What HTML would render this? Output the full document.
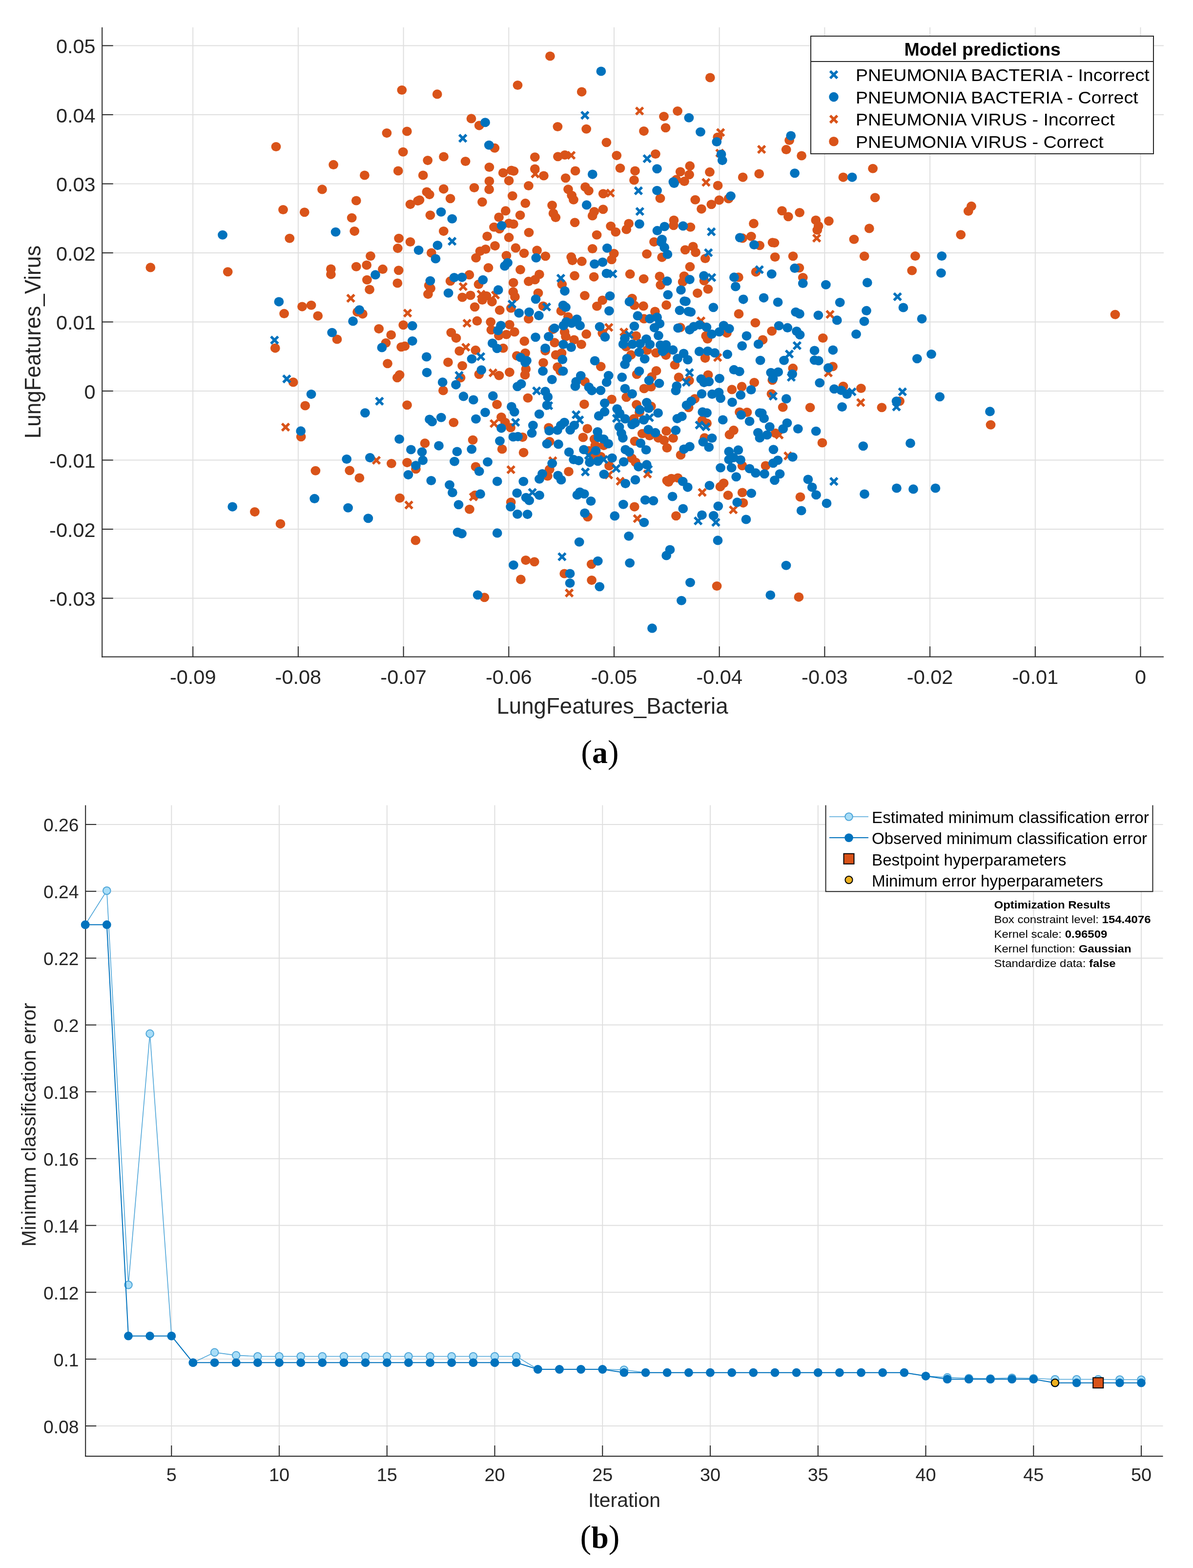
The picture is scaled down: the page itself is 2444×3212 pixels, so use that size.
<!DOCTYPE html>
<html><head><meta charset="utf-8"><title>Figure</title>
<style>html,body{margin:0;padding:0;background:#fff;} body{width:2444px;height:3212px;} svg{display:block;} text{font-family:'Liberation Sans', Arial, Helvetica, sans-serif;}</style>
</head><body>
<svg width="2444" height="3212" viewBox="0 0 2444 3212">
<rect width="2444" height="3212" fill="#fff"/>
<line x1="395.2" y1="56" x2="395.2" y2="1345.6" stroke="#dfdfdf" stroke-width="2"/>
<line x1="610.9" y1="56" x2="610.9" y2="1345.6" stroke="#dfdfdf" stroke-width="2"/>
<line x1="826.6" y1="56" x2="826.6" y2="1345.6" stroke="#dfdfdf" stroke-width="2"/>
<line x1="1042.3" y1="56" x2="1042.3" y2="1345.6" stroke="#dfdfdf" stroke-width="2"/>
<line x1="1258.0" y1="56" x2="1258.0" y2="1345.6" stroke="#dfdfdf" stroke-width="2"/>
<line x1="1473.7" y1="56" x2="1473.7" y2="1345.6" stroke="#dfdfdf" stroke-width="2"/>
<line x1="1689.4" y1="56" x2="1689.4" y2="1345.6" stroke="#dfdfdf" stroke-width="2"/>
<line x1="1905.1" y1="56" x2="1905.1" y2="1345.6" stroke="#dfdfdf" stroke-width="2"/>
<line x1="2120.8" y1="56" x2="2120.8" y2="1345.6" stroke="#dfdfdf" stroke-width="2"/>
<line x1="2336.5" y1="56" x2="2336.5" y2="1345.6" stroke="#dfdfdf" stroke-width="2"/>
<line x1="209.2" y1="93.5" x2="2384" y2="93.5" stroke="#dfdfdf" stroke-width="2"/>
<line x1="209.2" y1="235.0" x2="2384" y2="235.0" stroke="#dfdfdf" stroke-width="2"/>
<line x1="209.2" y1="376.5" x2="2384" y2="376.5" stroke="#dfdfdf" stroke-width="2"/>
<line x1="209.2" y1="518.0" x2="2384" y2="518.0" stroke="#dfdfdf" stroke-width="2"/>
<line x1="209.2" y1="659.5" x2="2384" y2="659.5" stroke="#dfdfdf" stroke-width="2"/>
<line x1="209.2" y1="801.0" x2="2384" y2="801.0" stroke="#dfdfdf" stroke-width="2"/>
<line x1="209.2" y1="942.5" x2="2384" y2="942.5" stroke="#dfdfdf" stroke-width="2"/>
<line x1="209.2" y1="1084.0" x2="2384" y2="1084.0" stroke="#dfdfdf" stroke-width="2"/>
<line x1="209.2" y1="1225.5" x2="2384" y2="1225.5" stroke="#dfdfdf" stroke-width="2"/>
<ellipse cx="565.5" cy="300.5" rx="9.9" ry="9.55" fill="#D95319"/>
<ellipse cx="823.3" cy="184.5" rx="9.9" ry="9.55" fill="#D95319"/>
<ellipse cx="895.7" cy="192.9" rx="9.9" ry="9.55" fill="#D95319"/>
<ellipse cx="965.5" cy="242.9" rx="9.9" ry="9.55" fill="#D95319"/>
<ellipse cx="981.7" cy="257.1" rx="9.9" ry="9.55" fill="#D95319"/>
<ellipse cx="792.4" cy="272.6" rx="9.9" ry="9.55" fill="#D95319"/>
<ellipse cx="833.8" cy="269.0" rx="9.9" ry="9.55" fill="#D95319"/>
<ellipse cx="825.7" cy="311.2" rx="9.9" ry="9.55" fill="#D95319"/>
<ellipse cx="909.0" cy="321.0" rx="9.9" ry="9.55" fill="#D95319"/>
<ellipse cx="876.2" cy="328.6" rx="9.9" ry="9.55" fill="#D95319"/>
<ellipse cx="953.6" cy="330.5" rx="9.9" ry="9.55" fill="#D95319"/>
<ellipse cx="683.1" cy="337.4" rx="9.9" ry="9.55" fill="#D95319"/>
<ellipse cx="815.7" cy="350.0" rx="9.9" ry="9.55" fill="#D95319"/>
<ellipse cx="746.9" cy="359.0" rx="9.9" ry="9.55" fill="#D95319"/>
<ellipse cx="866.7" cy="359.0" rx="9.9" ry="9.55" fill="#D95319"/>
<ellipse cx="1126.9" cy="115.0" rx="9.9" ry="9.55" fill="#D95319"/>
<ellipse cx="1060.5" cy="174.5" rx="9.9" ry="9.55" fill="#D95319"/>
<ellipse cx="1191.7" cy="188.1" rx="9.9" ry="9.55" fill="#D95319"/>
<ellipse cx="1388.1" cy="227.6" rx="9.9" ry="9.55" fill="#D95319"/>
<ellipse cx="1360.0" cy="238.6" rx="9.9" ry="9.55" fill="#D95319"/>
<ellipse cx="1363.6" cy="261.7" rx="9.9" ry="9.55" fill="#D95319"/>
<ellipse cx="1319.0" cy="268.6" rx="9.9" ry="9.55" fill="#D95319"/>
<ellipse cx="1142.4" cy="259.5" rx="9.9" ry="9.55" fill="#D95319"/>
<ellipse cx="1201.2" cy="264.3" rx="9.9" ry="9.55" fill="#D95319"/>
<ellipse cx="1242.4" cy="291.7" rx="9.9" ry="9.55" fill="#D95319"/>
<ellipse cx="1013.3" cy="303.2" rx="9.9" ry="9.55" fill="#D95319"/>
<ellipse cx="1095.8" cy="321.7" rx="9.9" ry="9.55" fill="#D95319"/>
<ellipse cx="1142.9" cy="320.8" rx="9.9" ry="9.55" fill="#D95319"/>
<ellipse cx="1157.1" cy="317.5" rx="9.9" ry="9.55" fill="#D95319"/>
<ellipse cx="1263.3" cy="318.6" rx="9.9" ry="9.55" fill="#D95319"/>
<ellipse cx="1342.9" cy="315.5" rx="9.9" ry="9.55" fill="#D95319"/>
<ellipse cx="1270.5" cy="344.5" rx="9.9" ry="9.55" fill="#D95319"/>
<ellipse cx="1301.0" cy="350.0" rx="9.9" ry="9.55" fill="#D95319"/>
<ellipse cx="1299.0" cy="369.0" rx="9.9" ry="9.55" fill="#D95319"/>
<ellipse cx="1178.6" cy="350.0" rx="9.9" ry="9.55" fill="#D95319"/>
<ellipse cx="1158.7" cy="364.8" rx="9.9" ry="9.55" fill="#D95319"/>
<ellipse cx="1095.8" cy="346.1" rx="9.9" ry="9.55" fill="#D95319"/>
<ellipse cx="1113.9" cy="360.0" rx="9.9" ry="9.55" fill="#D95319"/>
<ellipse cx="1047.6" cy="349.0" rx="9.9" ry="9.55" fill="#D95319"/>
<ellipse cx="1052.4" cy="350.5" rx="9.9" ry="9.55" fill="#D95319"/>
<ellipse cx="1030.7" cy="354.0" rx="9.9" ry="9.55" fill="#D95319"/>
<ellipse cx="1042.6" cy="370.1" rx="9.9" ry="9.55" fill="#D95319"/>
<ellipse cx="1002.4" cy="342.5" rx="9.9" ry="9.55" fill="#D95319"/>
<ellipse cx="1002.4" cy="371.0" rx="9.9" ry="9.55" fill="#D95319"/>
<ellipse cx="1393.7" cy="351.8" rx="9.9" ry="9.55" fill="#D95319"/>
<ellipse cx="1413.3" cy="339.9" rx="9.9" ry="9.55" fill="#D95319"/>
<ellipse cx="1412.1" cy="357.7" rx="9.9" ry="9.55" fill="#D95319"/>
<ellipse cx="1385.4" cy="367.9" rx="9.9" ry="9.55" fill="#D95319"/>
<ellipse cx="1402.0" cy="371.4" rx="9.9" ry="9.55" fill="#D95319"/>
<ellipse cx="1454.0" cy="352.4" rx="9.9" ry="9.55" fill="#D95319"/>
<ellipse cx="1521.7" cy="363.1" rx="9.9" ry="9.55" fill="#D95319"/>
<ellipse cx="1454.8" cy="159.0" rx="9.9" ry="9.55" fill="#D95319"/>
<ellipse cx="1470.2" cy="281.0" rx="9.9" ry="9.55" fill="#D95319"/>
<ellipse cx="1617.1" cy="287.4" rx="9.9" ry="9.55" fill="#D95319"/>
<ellipse cx="1610.7" cy="306.4" rx="9.9" ry="9.55" fill="#D95319"/>
<ellipse cx="1642.1" cy="319.0" rx="9.9" ry="9.55" fill="#D95319"/>
<ellipse cx="1555.2" cy="356.0" rx="9.9" ry="9.55" fill="#D95319"/>
<ellipse cx="1788.1" cy="345.2" rx="9.9" ry="9.55" fill="#D95319"/>
<ellipse cx="1727.4" cy="363.1" rx="9.9" ry="9.55" fill="#D95319"/>
<ellipse cx="580.0" cy="429.5" rx="9.9" ry="9.55" fill="#D95319"/>
<ellipse cx="593.3" cy="488.3" rx="9.9" ry="9.55" fill="#D95319"/>
<ellipse cx="308.3" cy="547.9" rx="9.9" ry="9.55" fill="#D95319"/>
<ellipse cx="466.7" cy="556.7" rx="9.9" ry="9.55" fill="#D95319"/>
<ellipse cx="582.1" cy="642.4" rx="9.9" ry="9.55" fill="#D95319"/>
<ellipse cx="660.0" cy="387.9" rx="9.9" ry="9.55" fill="#D95319"/>
<ellipse cx="729.8" cy="411.0" rx="9.9" ry="9.55" fill="#D95319"/>
<ellipse cx="840.5" cy="418.6" rx="9.9" ry="9.55" fill="#D95319"/>
<ellipse cx="859.5" cy="409.8" rx="9.9" ry="9.55" fill="#D95319"/>
<ellipse cx="874.3" cy="393.1" rx="9.9" ry="9.55" fill="#D95319"/>
<ellipse cx="879.8" cy="398.6" rx="9.9" ry="9.55" fill="#D95319"/>
<ellipse cx="908.8" cy="387.1" rx="9.9" ry="9.55" fill="#D95319"/>
<ellipse cx="922.6" cy="406.7" rx="9.9" ry="9.55" fill="#D95319"/>
<ellipse cx="971.5" cy="384.5" rx="9.9" ry="9.55" fill="#D95319"/>
<ellipse cx="987.9" cy="413.8" rx="9.9" ry="9.55" fill="#D95319"/>
<ellipse cx="623.8" cy="434.8" rx="9.9" ry="9.55" fill="#D95319"/>
<ellipse cx="720.7" cy="446.2" rx="9.9" ry="9.55" fill="#D95319"/>
<ellipse cx="881.4" cy="440.7" rx="9.9" ry="9.55" fill="#D95319"/>
<ellipse cx="726.2" cy="473.6" rx="9.9" ry="9.55" fill="#D95319"/>
<ellipse cx="908.8" cy="473.6" rx="9.9" ry="9.55" fill="#D95319"/>
<ellipse cx="817.1" cy="488.3" rx="9.9" ry="9.55" fill="#D95319"/>
<ellipse cx="840.5" cy="495.5" rx="9.9" ry="9.55" fill="#D95319"/>
<ellipse cx="814.8" cy="508.6" rx="9.9" ry="9.55" fill="#D95319"/>
<ellipse cx="883.8" cy="518.1" rx="9.9" ry="9.55" fill="#D95319"/>
<ellipse cx="983.5" cy="514.6" rx="9.9" ry="9.55" fill="#D95319"/>
<ellipse cx="994.8" cy="510.5" rx="9.9" ry="9.55" fill="#D95319"/>
<ellipse cx="975.1" cy="528.3" rx="9.9" ry="9.55" fill="#D95319"/>
<ellipse cx="998.1" cy="484.0" rx="9.9" ry="9.55" fill="#D95319"/>
<ellipse cx="759.0" cy="524.5" rx="9.9" ry="9.55" fill="#D95319"/>
<ellipse cx="729.8" cy="546.2" rx="9.9" ry="9.55" fill="#D95319"/>
<ellipse cx="751.2" cy="543.1" rx="9.9" ry="9.55" fill="#D95319"/>
<ellipse cx="784.0" cy="551.4" rx="9.9" ry="9.55" fill="#D95319"/>
<ellipse cx="677.9" cy="551.0" rx="9.9" ry="9.55" fill="#D95319"/>
<ellipse cx="677.9" cy="562.1" rx="9.9" ry="9.55" fill="#D95319"/>
<ellipse cx="816.7" cy="553.8" rx="9.9" ry="9.55" fill="#D95319"/>
<ellipse cx="751.9" cy="573.3" rx="9.9" ry="9.55" fill="#D95319"/>
<ellipse cx="814.3" cy="580.0" rx="9.9" ry="9.55" fill="#D95319"/>
<ellipse cx="757.1" cy="593.1" rx="9.9" ry="9.55" fill="#D95319"/>
<ellipse cx="878.6" cy="584.8" rx="9.9" ry="9.55" fill="#D95319"/>
<ellipse cx="882.1" cy="590.7" rx="9.9" ry="9.55" fill="#D95319"/>
<ellipse cx="876.9" cy="602.6" rx="9.9" ry="9.55" fill="#D95319"/>
<ellipse cx="922.6" cy="575.7" rx="9.9" ry="9.55" fill="#D95319"/>
<ellipse cx="961.4" cy="562.9" rx="9.9" ry="9.55" fill="#D95319"/>
<ellipse cx="980.5" cy="582.4" rx="9.9" ry="9.55" fill="#D95319"/>
<ellipse cx="947.1" cy="609.0" rx="9.9" ry="9.55" fill="#D95319"/>
<ellipse cx="963.8" cy="605.0" rx="9.9" ry="9.55" fill="#D95319"/>
<ellipse cx="988.1" cy="614.5" rx="9.9" ry="9.55" fill="#D95319"/>
<ellipse cx="972.6" cy="628.8" rx="9.9" ry="9.55" fill="#D95319"/>
<ellipse cx="619.0" cy="628.1" rx="9.9" ry="9.55" fill="#D95319"/>
<ellipse cx="637.6" cy="625.2" rx="9.9" ry="9.55" fill="#D95319"/>
<ellipse cx="651.2" cy="647.1" rx="9.9" ry="9.55" fill="#D95319"/>
<ellipse cx="732.1" cy="639.0" rx="9.9" ry="9.55" fill="#D95319"/>
<ellipse cx="742.9" cy="643.1" rx="9.9" ry="9.55" fill="#D95319"/>
<ellipse cx="977.4" cy="657.4" rx="9.9" ry="9.55" fill="#D95319"/>
<ellipse cx="826.2" cy="665.7" rx="9.9" ry="9.55" fill="#D95319"/>
<ellipse cx="776.2" cy="673.6" rx="9.9" ry="9.55" fill="#D95319"/>
<ellipse cx="801.2" cy="686.0" rx="9.9" ry="9.55" fill="#D95319"/>
<ellipse cx="690.5" cy="695.0" rx="9.9" ry="9.55" fill="#D95319"/>
<ellipse cx="924.3" cy="681.2" rx="9.9" ry="9.55" fill="#D95319"/>
<ellipse cx="934.5" cy="692.6" rx="9.9" ry="9.55" fill="#D95319"/>
<ellipse cx="790.5" cy="702.6" rx="9.9" ry="9.55" fill="#D95319"/>
<ellipse cx="1002.1" cy="387.9" rx="9.9" ry="9.55" fill="#D95319"/>
<ellipse cx="1082.9" cy="380.5" rx="9.9" ry="9.55" fill="#D95319"/>
<ellipse cx="1049.8" cy="401.2" rx="9.9" ry="9.55" fill="#D95319"/>
<ellipse cx="1076.3" cy="416.4" rx="9.9" ry="9.55" fill="#D95319"/>
<ellipse cx="1131.1" cy="420.6" rx="9.9" ry="9.55" fill="#D95319"/>
<ellipse cx="1133.6" cy="437.1" rx="9.9" ry="9.55" fill="#D95319"/>
<ellipse cx="1138.3" cy="445.5" rx="9.9" ry="9.55" fill="#D95319"/>
<ellipse cx="1035.8" cy="431.9" rx="9.9" ry="9.55" fill="#D95319"/>
<ellipse cx="1022.1" cy="445.0" rx="9.9" ry="9.55" fill="#D95319"/>
<ellipse cx="1065.6" cy="440.8" rx="9.9" ry="9.55" fill="#D95319"/>
<ellipse cx="1012.0" cy="465.2" rx="9.9" ry="9.55" fill="#D95319"/>
<ellipse cx="1023.3" cy="468.8" rx="9.9" ry="9.55" fill="#D95319"/>
<ellipse cx="1042.6" cy="457.5" rx="9.9" ry="9.55" fill="#D95319"/>
<ellipse cx="1051.9" cy="459.0" rx="9.9" ry="9.55" fill="#D95319"/>
<ellipse cx="1083.5" cy="476.2" rx="9.9" ry="9.55" fill="#D95319"/>
<ellipse cx="1042.6" cy="486.4" rx="9.9" ry="9.55" fill="#D95319"/>
<ellipse cx="1014.0" cy="503.6" rx="9.9" ry="9.55" fill="#D95319"/>
<ellipse cx="1056.4" cy="507.9" rx="9.9" ry="9.55" fill="#D95319"/>
<ellipse cx="1073.6" cy="518.8" rx="9.9" ry="9.55" fill="#D95319"/>
<ellipse cx="1100.1" cy="512.9" rx="9.9" ry="9.55" fill="#D95319"/>
<ellipse cx="1117.4" cy="524.8" rx="9.9" ry="9.55" fill="#D95319"/>
<ellipse cx="1037.4" cy="523.6" rx="9.9" ry="9.55" fill="#D95319"/>
<ellipse cx="1164.0" cy="387.7" rx="9.9" ry="9.55" fill="#D95319"/>
<ellipse cx="1171.2" cy="400.2" rx="9.9" ry="9.55" fill="#D95319"/>
<ellipse cx="1175.0" cy="409.2" rx="9.9" ry="9.55" fill="#D95319"/>
<ellipse cx="1199.0" cy="383.0" rx="9.9" ry="9.55" fill="#D95319"/>
<ellipse cx="1206.0" cy="390.7" rx="9.9" ry="9.55" fill="#D95319"/>
<ellipse cx="1235.7" cy="396.7" rx="9.9" ry="9.55" fill="#D95319"/>
<ellipse cx="1213.7" cy="441.9" rx="9.9" ry="9.55" fill="#D95319"/>
<ellipse cx="1217.3" cy="433.6" rx="9.9" ry="9.55" fill="#D95319"/>
<ellipse cx="1235.5" cy="428.8" rx="9.9" ry="9.55" fill="#D95319"/>
<ellipse cx="1177.6" cy="455.8" rx="9.9" ry="9.55" fill="#D95319"/>
<ellipse cx="1222.6" cy="481.2" rx="9.9" ry="9.55" fill="#D95319"/>
<ellipse cx="1251.2" cy="463.3" rx="9.9" ry="9.55" fill="#D95319"/>
<ellipse cx="1261.3" cy="475.2" rx="9.9" ry="9.55" fill="#D95319"/>
<ellipse cx="1288.1" cy="458.0" rx="9.9" ry="9.55" fill="#D95319"/>
<ellipse cx="1283.3" cy="469.9" rx="9.9" ry="9.55" fill="#D95319"/>
<ellipse cx="1213.7" cy="509.5" rx="9.9" ry="9.55" fill="#D95319"/>
<ellipse cx="1257.7" cy="519.3" rx="9.9" ry="9.55" fill="#D95319"/>
<ellipse cx="1253.0" cy="531.8" rx="9.9" ry="9.55" fill="#D95319"/>
<ellipse cx="1170.2" cy="526.4" rx="9.9" ry="9.55" fill="#D95319"/>
<ellipse cx="1172.6" cy="533.6" rx="9.9" ry="9.55" fill="#D95319"/>
<ellipse cx="1191.9" cy="535.4" rx="9.9" ry="9.55" fill="#D95319"/>
<ellipse cx="1470.6" cy="380.1" rx="9.9" ry="9.55" fill="#D95319"/>
<ellipse cx="1352.5" cy="406.3" rx="9.9" ry="9.55" fill="#D95319"/>
<ellipse cx="1424.3" cy="409.3" rx="9.9" ry="9.55" fill="#D95319"/>
<ellipse cx="1437.0" cy="428.1" rx="9.9" ry="9.55" fill="#D95319"/>
<ellipse cx="1457.3" cy="418.8" rx="9.9" ry="9.55" fill="#D95319"/>
<ellipse cx="1473.3" cy="409.9" rx="9.9" ry="9.55" fill="#D95319"/>
<ellipse cx="1380.5" cy="451.0" rx="9.9" ry="9.55" fill="#D95319"/>
<ellipse cx="1379.9" cy="461.7" rx="9.9" ry="9.55" fill="#D95319"/>
<ellipse cx="1414.4" cy="465.2" rx="9.9" ry="9.55" fill="#D95319"/>
<ellipse cx="1340.0" cy="495.6" rx="9.9" ry="9.55" fill="#D95319"/>
<ellipse cx="1356.1" cy="527.1" rx="9.9" ry="9.55" fill="#D95319"/>
<ellipse cx="1325.1" cy="520.2" rx="9.9" ry="9.55" fill="#D95319"/>
<ellipse cx="1403.7" cy="511.7" rx="9.9" ry="9.55" fill="#D95319"/>
<ellipse cx="1419.8" cy="505.1" rx="9.9" ry="9.55" fill="#D95319"/>
<ellipse cx="1425.1" cy="517.0" rx="9.9" ry="9.55" fill="#D95319"/>
<ellipse cx="1444.8" cy="529.5" rx="9.9" ry="9.55" fill="#D95319"/>
<ellipse cx="1492.5" cy="406.9" rx="9.9" ry="9.55" fill="#D95319"/>
<ellipse cx="1602.0" cy="431.7" rx="9.9" ry="9.55" fill="#D95319"/>
<ellipse cx="1614.9" cy="443.8" rx="9.9" ry="9.55" fill="#D95319"/>
<ellipse cx="1638.1" cy="435.5" rx="9.9" ry="9.55" fill="#D95319"/>
<ellipse cx="1544.0" cy="457.9" rx="9.9" ry="9.55" fill="#D95319"/>
<ellipse cx="1521.1" cy="487.9" rx="9.9" ry="9.55" fill="#D95319"/>
<ellipse cx="1538.9" cy="484.3" rx="9.9" ry="9.55" fill="#D95319"/>
<ellipse cx="1556.2" cy="502.7" rx="9.9" ry="9.55" fill="#D95319"/>
<ellipse cx="1582.6" cy="496.8" rx="9.9" ry="9.55" fill="#D95319"/>
<ellipse cx="1587.7" cy="526.5" rx="9.9" ry="9.55" fill="#D95319"/>
<ellipse cx="1624.6" cy="524.8" rx="9.9" ry="9.55" fill="#D95319"/>
<ellipse cx="1671.3" cy="451.0" rx="9.9" ry="9.55" fill="#D95319"/>
<ellipse cx="1676.7" cy="462.9" rx="9.9" ry="9.55" fill="#D95319"/>
<ellipse cx="1674.3" cy="471.2" rx="9.9" ry="9.55" fill="#D95319"/>
<ellipse cx="1697.9" cy="452.7" rx="9.9" ry="9.55" fill="#D95319"/>
<ellipse cx="1792.7" cy="404.8" rx="9.9" ry="9.55" fill="#D95319"/>
<ellipse cx="1780.8" cy="467.9" rx="9.9" ry="9.55" fill="#D95319"/>
<ellipse cx="1749.5" cy="490.2" rx="9.9" ry="9.55" fill="#D95319"/>
<ellipse cx="1770.7" cy="524.8" rx="9.9" ry="9.55" fill="#D95319"/>
<ellipse cx="1990.0" cy="422.4" rx="9.9" ry="9.55" fill="#D95319"/>
<ellipse cx="1983.8" cy="432.4" rx="9.9" ry="9.55" fill="#D95319"/>
<ellipse cx="1968.3" cy="480.7" rx="9.9" ry="9.55" fill="#D95319"/>
<ellipse cx="1875.0" cy="524.5" rx="9.9" ry="9.55" fill="#D95319"/>
<ellipse cx="1868.3" cy="554.3" rx="9.9" ry="9.55" fill="#D95319"/>
<ellipse cx="2284.5" cy="644.3" rx="9.9" ry="9.55" fill="#D95319"/>
<ellipse cx="1000.5" cy="548.5" rx="9.9" ry="9.55" fill="#D95319"/>
<ellipse cx="1066.0" cy="552.4" rx="9.9" ry="9.55" fill="#D95319"/>
<ellipse cx="1104.9" cy="562.1" rx="9.9" ry="9.55" fill="#D95319"/>
<ellipse cx="1096.0" cy="572.9" rx="9.9" ry="9.55" fill="#D95319"/>
<ellipse cx="1082.9" cy="576.4" rx="9.9" ry="9.55" fill="#D95319"/>
<ellipse cx="1051.7" cy="579.0" rx="9.9" ry="9.55" fill="#D95319"/>
<ellipse cx="1151.3" cy="582.4" rx="9.9" ry="9.55" fill="#D95319"/>
<ellipse cx="1177.1" cy="564.8" rx="9.9" ry="9.55" fill="#D95319"/>
<ellipse cx="996.5" cy="606.2" rx="9.9" ry="9.55" fill="#D95319"/>
<ellipse cx="1007.9" cy="618.1" rx="9.9" ry="9.55" fill="#D95319"/>
<ellipse cx="1051.3" cy="597.9" rx="9.9" ry="9.55" fill="#D95319"/>
<ellipse cx="1054.9" cy="608.0" rx="9.9" ry="9.55" fill="#D95319"/>
<ellipse cx="1046.9" cy="631.2" rx="9.9" ry="9.55" fill="#D95319"/>
<ellipse cx="1023.7" cy="635.4" rx="9.9" ry="9.55" fill="#D95319"/>
<ellipse cx="1102.5" cy="600.2" rx="9.9" ry="9.55" fill="#D95319"/>
<ellipse cx="1112.6" cy="627.0" rx="9.9" ry="9.55" fill="#D95319"/>
<ellipse cx="1082.9" cy="653.2" rx="9.9" ry="9.55" fill="#D95319"/>
<ellipse cx="1149.5" cy="637.1" rx="9.9" ry="9.55" fill="#D95319"/>
<ellipse cx="1163.8" cy="649.0" rx="9.9" ry="9.55" fill="#D95319"/>
<ellipse cx="1132.9" cy="674.6" rx="9.9" ry="9.55" fill="#D95319"/>
<ellipse cx="1156.7" cy="680.0" rx="9.9" ry="9.55" fill="#D95319"/>
<ellipse cx="1159.0" cy="689.5" rx="9.9" ry="9.55" fill="#D95319"/>
<ellipse cx="1005.2" cy="659.6" rx="9.9" ry="9.55" fill="#D95319"/>
<ellipse cx="1006.4" cy="675.7" rx="9.9" ry="9.55" fill="#D95319"/>
<ellipse cx="1043.9" cy="665.0" rx="9.9" ry="9.55" fill="#D95319"/>
<ellipse cx="1054.0" cy="679.9" rx="9.9" ry="9.55" fill="#D95319"/>
<ellipse cx="1037.4" cy="685.2" rx="9.9" ry="9.55" fill="#D95319"/>
<ellipse cx="1021.9" cy="687.6" rx="9.9" ry="9.55" fill="#D95319"/>
<ellipse cx="1074.3" cy="698.9" rx="9.9" ry="9.55" fill="#D95319"/>
<ellipse cx="1136.2" cy="701.9" rx="9.9" ry="9.55" fill="#D95319"/>
<ellipse cx="1030.8" cy="713.2" rx="9.9" ry="9.55" fill="#D95319"/>
<ellipse cx="974.3" cy="717.4" rx="9.9" ry="9.55" fill="#D95319"/>
<ellipse cx="1058.8" cy="728.7" rx="9.9" ry="9.55" fill="#D95319"/>
<ellipse cx="1076.1" cy="723.3" rx="9.9" ry="9.55" fill="#D95319"/>
<ellipse cx="1077.3" cy="756.1" rx="9.9" ry="9.55" fill="#D95319"/>
<ellipse cx="1075.5" cy="768.0" rx="9.9" ry="9.55" fill="#D95319"/>
<ellipse cx="1117.1" cy="718.6" rx="9.9" ry="9.55" fill="#D95319"/>
<ellipse cx="1138.6" cy="726.9" rx="9.9" ry="9.55" fill="#D95319"/>
<ellipse cx="1150.5" cy="723.3" rx="9.9" ry="9.55" fill="#D95319"/>
<ellipse cx="1113.0" cy="743.0" rx="9.9" ry="9.55" fill="#D95319"/>
<ellipse cx="1142.1" cy="751.9" rx="9.9" ry="9.55" fill="#D95319"/>
<ellipse cx="1148.0" cy="760.0" rx="9.9" ry="9.55" fill="#D95319"/>
<ellipse cx="981.4" cy="766.8" rx="9.9" ry="9.55" fill="#D95319"/>
<ellipse cx="1022.5" cy="769.2" rx="9.9" ry="9.55" fill="#D95319"/>
<ellipse cx="1043.9" cy="762.6" rx="9.9" ry="9.55" fill="#D95319"/>
<ellipse cx="1216.7" cy="567.1" rx="9.9" ry="9.55" fill="#D95319"/>
<ellipse cx="1290.7" cy="561.4" rx="9.9" ry="9.55" fill="#D95319"/>
<ellipse cx="1318.7" cy="571.3" rx="9.9" ry="9.55" fill="#D95319"/>
<ellipse cx="1351.4" cy="566.0" rx="9.9" ry="9.55" fill="#D95319"/>
<ellipse cx="1353.2" cy="583.8" rx="9.9" ry="9.55" fill="#D95319"/>
<ellipse cx="1197.9" cy="605.5" rx="9.9" ry="9.55" fill="#D95319"/>
<ellipse cx="1234.2" cy="615.0" rx="9.9" ry="9.55" fill="#D95319"/>
<ellipse cx="1222.9" cy="627.3" rx="9.9" ry="9.55" fill="#D95319"/>
<ellipse cx="1294.9" cy="611.2" rx="9.9" ry="9.55" fill="#D95319"/>
<ellipse cx="1299.6" cy="625.5" rx="9.9" ry="9.55" fill="#D95319"/>
<ellipse cx="1318.1" cy="626.9" rx="9.9" ry="9.55" fill="#D95319"/>
<ellipse cx="1365.1" cy="624.9" rx="9.9" ry="9.55" fill="#D95319"/>
<ellipse cx="1341.9" cy="638.0" rx="9.9" ry="9.55" fill="#D95319"/>
<ellipse cx="1319.3" cy="652.9" rx="9.9" ry="9.55" fill="#D95319"/>
<ellipse cx="1201.2" cy="684.4" rx="9.9" ry="9.55" fill="#D95319"/>
<ellipse cx="1234.2" cy="682.6" rx="9.9" ry="9.55" fill="#D95319"/>
<ellipse cx="1303.2" cy="688.0" rx="9.9" ry="9.55" fill="#D95319"/>
<ellipse cx="1413.5" cy="546.4" rx="9.9" ry="9.55" fill="#D95319"/>
<ellipse cx="1401.5" cy="565.5" rx="9.9" ry="9.55" fill="#D95319"/>
<ellipse cx="1398.6" cy="577.4" rx="9.9" ry="9.55" fill="#D95319"/>
<ellipse cx="1442.6" cy="575.0" rx="9.9" ry="9.55" fill="#D95319"/>
<ellipse cx="1450.4" cy="592.3" rx="9.9" ry="9.55" fill="#D95319"/>
<ellipse cx="1428.9" cy="600.6" rx="9.9" ry="9.55" fill="#D95319"/>
<ellipse cx="1393.8" cy="670.8" rx="9.9" ry="9.55" fill="#D95319"/>
<ellipse cx="1446.2" cy="688.1" rx="9.9" ry="9.55" fill="#D95319"/>
<ellipse cx="1489.0" cy="682.1" rx="9.9" ry="9.55" fill="#D95319"/>
<ellipse cx="1547.4" cy="661.3" rx="9.9" ry="9.55" fill="#D95319"/>
<ellipse cx="1513.5" cy="642.9" rx="9.9" ry="9.55" fill="#D95319"/>
<ellipse cx="1512.9" cy="567.9" rx="9.9" ry="9.55" fill="#D95319"/>
<ellipse cx="1548.6" cy="557.1" rx="9.9" ry="9.55" fill="#D95319"/>
<ellipse cx="1637.4" cy="548.8" rx="9.9" ry="9.55" fill="#D95319"/>
<ellipse cx="1644.8" cy="568.5" rx="9.9" ry="9.55" fill="#D95319"/>
<ellipse cx="1581.2" cy="678.3" rx="9.9" ry="9.55" fill="#D95319"/>
<ellipse cx="563.8" cy="713.1" rx="9.9" ry="9.55" fill="#D95319"/>
<ellipse cx="822.1" cy="710.7" rx="9.9" ry="9.55" fill="#D95319"/>
<ellipse cx="829.3" cy="709.0" rx="9.9" ry="9.55" fill="#D95319"/>
<ellipse cx="941.2" cy="719.0" rx="9.9" ry="9.55" fill="#D95319"/>
<ellipse cx="917.9" cy="742.1" rx="9.9" ry="9.55" fill="#D95319"/>
<ellipse cx="947.1" cy="749.3" rx="9.9" ry="9.55" fill="#D95319"/>
<ellipse cx="794.0" cy="744.8" rx="9.9" ry="9.55" fill="#D95319"/>
<ellipse cx="818.6" cy="767.9" rx="9.9" ry="9.55" fill="#D95319"/>
<ellipse cx="813.8" cy="773.8" rx="9.9" ry="9.55" fill="#D95319"/>
<ellipse cx="943.6" cy="773.8" rx="9.9" ry="9.55" fill="#D95319"/>
<ellipse cx="907.9" cy="800.0" rx="9.9" ry="9.55" fill="#D95319"/>
<ellipse cx="600.7" cy="782.9" rx="9.9" ry="9.55" fill="#D95319"/>
<ellipse cx="625.2" cy="831.0" rx="9.9" ry="9.55" fill="#D95319"/>
<ellipse cx="834.0" cy="829.8" rx="9.9" ry="9.55" fill="#D95319"/>
<ellipse cx="929.3" cy="865.5" rx="9.9" ry="9.55" fill="#D95319"/>
<ellipse cx="616.7" cy="894.8" rx="9.9" ry="9.55" fill="#D95319"/>
<ellipse cx="870.5" cy="907.9" rx="9.9" ry="9.55" fill="#D95319"/>
<ellipse cx="968.6" cy="901.2" rx="9.9" ry="9.55" fill="#D95319"/>
<ellipse cx="801.9" cy="949.5" rx="9.9" ry="9.55" fill="#D95319"/>
<ellipse cx="834.0" cy="947.6" rx="9.9" ry="9.55" fill="#D95319"/>
<ellipse cx="851.9" cy="960.7" rx="9.9" ry="9.55" fill="#D95319"/>
<ellipse cx="974.5" cy="956.0" rx="9.9" ry="9.55" fill="#D95319"/>
<ellipse cx="646.4" cy="964.3" rx="9.9" ry="9.55" fill="#D95319"/>
<ellipse cx="716.2" cy="963.8" rx="9.9" ry="9.55" fill="#D95319"/>
<ellipse cx="736.4" cy="979.0" rx="9.9" ry="9.55" fill="#D95319"/>
<ellipse cx="973.3" cy="1014.3" rx="9.9" ry="9.55" fill="#D95319"/>
<ellipse cx="819.0" cy="1020.2" rx="9.9" ry="9.55" fill="#D95319"/>
<ellipse cx="1176.0" cy="696.0" rx="9.9" ry="9.55" fill="#D95319"/>
<ellipse cx="1191.0" cy="705.5" rx="9.9" ry="9.55" fill="#D95319"/>
<ellipse cx="1230.8" cy="750.7" rx="9.9" ry="9.55" fill="#D95319"/>
<ellipse cx="1198.1" cy="781.7" rx="9.9" ry="9.55" fill="#D95319"/>
<ellipse cx="1196.9" cy="828.1" rx="9.9" ry="9.55" fill="#D95319"/>
<ellipse cx="1253.1" cy="818.0" rx="9.9" ry="9.55" fill="#D95319"/>
<ellipse cx="1282.6" cy="710.2" rx="9.9" ry="9.55" fill="#D95319"/>
<ellipse cx="1325.5" cy="717.4" rx="9.9" ry="9.55" fill="#D95319"/>
<ellipse cx="1343.9" cy="722.7" rx="9.9" ry="9.55" fill="#D95319"/>
<ellipse cx="1292.7" cy="726.9" rx="9.9" ry="9.55" fill="#D95319"/>
<ellipse cx="1304.6" cy="766.8" rx="9.9" ry="9.55" fill="#D95319"/>
<ellipse cx="1344.5" cy="759.6" rx="9.9" ry="9.55" fill="#D95319"/>
<ellipse cx="1335.0" cy="772.1" rx="9.9" ry="9.55" fill="#D95319"/>
<ellipse cx="1319.5" cy="796.0" rx="9.9" ry="9.55" fill="#D95319"/>
<ellipse cx="1333.8" cy="792.4" rx="9.9" ry="9.55" fill="#D95319"/>
<ellipse cx="1283.2" cy="813.8" rx="9.9" ry="9.55" fill="#D95319"/>
<ellipse cx="1304.0" cy="828.7" rx="9.9" ry="9.55" fill="#D95319"/>
<ellipse cx="1333.8" cy="832.3" rx="9.9" ry="9.55" fill="#D95319"/>
<ellipse cx="1310.0" cy="844.8" rx="9.9" ry="9.55" fill="#D95319"/>
<ellipse cx="1449.4" cy="694.3" rx="9.9" ry="9.55" fill="#D95319"/>
<ellipse cx="1364.3" cy="727.6" rx="9.9" ry="9.55" fill="#D95319"/>
<ellipse cx="1382.4" cy="747.6" rx="9.9" ry="9.55" fill="#D95319"/>
<ellipse cx="1444.6" cy="733.6" rx="9.9" ry="9.55" fill="#D95319"/>
<ellipse cx="1390.5" cy="772.9" rx="9.9" ry="9.55" fill="#D95319"/>
<ellipse cx="1411.9" cy="779.4" rx="9.9" ry="9.55" fill="#D95319"/>
<ellipse cx="1450.6" cy="768.1" rx="9.9" ry="9.55" fill="#D95319"/>
<ellipse cx="1499.4" cy="797.9" rx="9.9" ry="9.55" fill="#D95319"/>
<ellipse cx="1519.6" cy="791.9" rx="9.9" ry="9.55" fill="#D95319"/>
<ellipse cx="1545.2" cy="783.6" rx="9.9" ry="9.55" fill="#D95319"/>
<ellipse cx="1423.2" cy="816.9" rx="9.9" ry="9.55" fill="#D95319"/>
<ellipse cx="1410.7" cy="834.8" rx="9.9" ry="9.55" fill="#D95319"/>
<ellipse cx="1685.8" cy="692.5" rx="9.9" ry="9.55" fill="#D95319"/>
<ellipse cx="1562.6" cy="696.1" rx="9.9" ry="9.55" fill="#D95319"/>
<ellipse cx="1706.1" cy="750.8" rx="9.9" ry="9.55" fill="#D95319"/>
<ellipse cx="1624.3" cy="754.4" rx="9.9" ry="9.55" fill="#D95319"/>
<ellipse cx="1582.3" cy="778.8" rx="9.9" ry="9.55" fill="#D95319"/>
<ellipse cx="1580.5" cy="806.8" rx="9.9" ry="9.55" fill="#D95319"/>
<ellipse cx="1603.7" cy="834.2" rx="9.9" ry="9.55" fill="#D95319"/>
<ellipse cx="1659.6" cy="834.8" rx="9.9" ry="9.55" fill="#D95319"/>
<ellipse cx="1727.5" cy="791.3" rx="9.9" ry="9.55" fill="#D95319"/>
<ellipse cx="1763.9" cy="795.5" rx="9.9" ry="9.55" fill="#D95319"/>
<ellipse cx="1806.4" cy="834.8" rx="9.9" ry="9.55" fill="#D95319"/>
<ellipse cx="1843.1" cy="821.7" rx="9.9" ry="9.55" fill="#D95319"/>
<ellipse cx="2029.5" cy="870.2" rx="9.9" ry="9.55" fill="#D95319"/>
<ellipse cx="1018.1" cy="828.6" rx="9.9" ry="9.55" fill="#D95319"/>
<ellipse cx="1081.4" cy="815.2" rx="9.9" ry="9.55" fill="#D95319"/>
<ellipse cx="1027.0" cy="854.5" rx="9.9" ry="9.55" fill="#D95319"/>
<ellipse cx="1034.8" cy="865.2" rx="9.9" ry="9.55" fill="#D95319"/>
<ellipse cx="1046.1" cy="876.0" rx="9.9" ry="9.55" fill="#D95319"/>
<ellipse cx="1070.5" cy="895.6" rx="9.9" ry="9.55" fill="#D95319"/>
<ellipse cx="1028.6" cy="920.0" rx="9.9" ry="9.55" fill="#D95319"/>
<ellipse cx="1072.6" cy="927.1" rx="9.9" ry="9.55" fill="#D95319"/>
<ellipse cx="1124.0" cy="876.0" rx="9.9" ry="9.55" fill="#D95319"/>
<ellipse cx="1125.8" cy="904.5" rx="9.9" ry="9.55" fill="#D95319"/>
<ellipse cx="1298.6" cy="857.9" rx="9.9" ry="9.55" fill="#D95319"/>
<ellipse cx="1203.3" cy="878.1" rx="9.9" ry="9.55" fill="#D95319"/>
<ellipse cx="1194.4" cy="896.0" rx="9.9" ry="9.55" fill="#D95319"/>
<ellipse cx="1217.6" cy="899.5" rx="9.9" ry="9.55" fill="#D95319"/>
<ellipse cx="1219.4" cy="912.6" rx="9.9" ry="9.55" fill="#D95319"/>
<ellipse cx="1236.7" cy="912.6" rx="9.9" ry="9.55" fill="#D95319"/>
<ellipse cx="1206.9" cy="923.3" rx="9.9" ry="9.55" fill="#D95319"/>
<ellipse cx="1216.4" cy="936.4" rx="9.9" ry="9.55" fill="#D95319"/>
<ellipse cx="1230.7" cy="935.2" rx="9.9" ry="9.55" fill="#D95319"/>
<ellipse cx="1248.0" cy="954.3" rx="9.9" ry="9.55" fill="#D95319"/>
<ellipse cx="1165.0" cy="966.0" rx="9.9" ry="9.55" fill="#D95319"/>
<ellipse cx="1300.4" cy="903.7" rx="9.9" ry="9.55" fill="#D95319"/>
<ellipse cx="1315.8" cy="888.2" rx="9.9" ry="9.55" fill="#D95319"/>
<ellipse cx="1330.7" cy="892.4" rx="9.9" ry="9.55" fill="#D95319"/>
<ellipse cx="1348.6" cy="897.1" rx="9.9" ry="9.55" fill="#D95319"/>
<ellipse cx="1360.5" cy="901.9" rx="9.9" ry="9.55" fill="#D95319"/>
<ellipse cx="1365.2" cy="882.9" rx="9.9" ry="9.55" fill="#D95319"/>
<ellipse cx="1366.4" cy="917.4" rx="9.9" ry="9.55" fill="#D95319"/>
<ellipse cx="1294.4" cy="938.8" rx="9.9" ry="9.55" fill="#D95319"/>
<ellipse cx="1302.1" cy="947.1" rx="9.9" ry="9.55" fill="#D95319"/>
<ellipse cx="1366.4" cy="984.6" rx="9.9" ry="9.55" fill="#D95319"/>
<ellipse cx="1438.6" cy="861.2" rx="9.9" ry="9.55" fill="#D95319"/>
<ellipse cx="1448.1" cy="867.1" rx="9.9" ry="9.55" fill="#D95319"/>
<ellipse cx="1379.0" cy="897.5" rx="9.9" ry="9.55" fill="#D95319"/>
<ellipse cx="1394.5" cy="932.0" rx="9.9" ry="9.55" fill="#D95319"/>
<ellipse cx="1443.3" cy="896.9" rx="9.9" ry="9.55" fill="#D95319"/>
<ellipse cx="1502.9" cy="881.4" rx="9.9" ry="9.55" fill="#D95319"/>
<ellipse cx="1494.5" cy="890.4" rx="9.9" ry="9.55" fill="#D95319"/>
<ellipse cx="1520.7" cy="954.0" rx="9.9" ry="9.55" fill="#D95319"/>
<ellipse cx="1369.5" cy="987.4" rx="9.9" ry="9.55" fill="#D95319"/>
<ellipse cx="1375.5" cy="980.2" rx="9.9" ry="9.55" fill="#D95319"/>
<ellipse cx="1388.6" cy="979.0" rx="9.9" ry="9.55" fill="#D95319"/>
<ellipse cx="1482.6" cy="989.8" rx="9.9" ry="9.55" fill="#D95319"/>
<ellipse cx="1475.5" cy="996.9" rx="9.9" ry="9.55" fill="#D95319"/>
<ellipse cx="1588.7" cy="887.4" rx="9.9" ry="9.55" fill="#D95319"/>
<ellipse cx="1684.5" cy="907.0" rx="9.9" ry="9.55" fill="#D95319"/>
<ellipse cx="1568.5" cy="954.0" rx="9.9" ry="9.55" fill="#D95319"/>
<ellipse cx="521.9" cy="1048.6" rx="9.9" ry="9.55" fill="#D95319"/>
<ellipse cx="574.5" cy="1073.1" rx="9.9" ry="9.55" fill="#D95319"/>
<ellipse cx="961.9" cy="1043.3" rx="9.9" ry="9.55" fill="#D95319"/>
<ellipse cx="851.4" cy="1106.9" rx="9.9" ry="9.55" fill="#D95319"/>
<ellipse cx="1121.7" cy="975.2" rx="9.9" ry="9.55" fill="#D95319"/>
<ellipse cx="1125.8" cy="961.5" rx="9.9" ry="9.55" fill="#D95319"/>
<ellipse cx="1046.7" cy="1028.8" rx="9.9" ry="9.55" fill="#D95319"/>
<ellipse cx="1203.9" cy="1058.7" rx="9.9" ry="9.55" fill="#D95319"/>
<ellipse cx="1299.8" cy="1038.1" rx="9.9" ry="9.55" fill="#D95319"/>
<ellipse cx="1211.7" cy="1155.7" rx="9.9" ry="9.55" fill="#D95319"/>
<ellipse cx="1385.0" cy="1056.7" rx="9.9" ry="9.55" fill="#D95319"/>
<ellipse cx="1491.5" cy="1014.6" rx="9.9" ry="9.55" fill="#D95319"/>
<ellipse cx="1520.7" cy="1009.0" rx="9.9" ry="9.55" fill="#D95319"/>
<ellipse cx="1522.5" cy="1030.1" rx="9.9" ry="9.55" fill="#D95319"/>
<ellipse cx="1639.5" cy="1018.0" rx="9.9" ry="9.55" fill="#D95319"/>
<ellipse cx="1077.1" cy="1147.6" rx="9.9" ry="9.55" fill="#D95319"/>
<ellipse cx="1094.8" cy="1150.7" rx="9.9" ry="9.55" fill="#D95319"/>
<ellipse cx="1066.9" cy="1186.9" rx="9.9" ry="9.55" fill="#D95319"/>
<ellipse cx="1156.2" cy="1175.0" rx="9.9" ry="9.55" fill="#D95319"/>
<ellipse cx="1212.1" cy="1188.6" rx="9.9" ry="9.55" fill="#D95319"/>
<ellipse cx="992.4" cy="1223.8" rx="9.9" ry="9.55" fill="#D95319"/>
<ellipse cx="1468.6" cy="1200.5" rx="9.9" ry="9.55" fill="#D95319"/>
<ellipse cx="1636.4" cy="1223.1" rx="9.9" ry="9.55" fill="#D95319"/>
<ellipse cx="1515.0" cy="844.0" rx="9.9" ry="9.55" fill="#D95319"/>
<ellipse cx="1530.5" cy="844.5" rx="9.9" ry="9.55" fill="#D95319"/>
<ellipse cx="856.0" cy="411.5" rx="9.9" ry="9.55" fill="#D95319"/>
<ellipse cx="1586.5" cy="497.5" rx="9.9" ry="9.55" fill="#D95319"/>
<path d="M1302.9 220.1L1317.5 234.7M1302.9 234.7L1317.5 220.1" stroke="#D95319" stroke-width="5.4"/>
<path d="M1162.9 310.8L1177.5 325.4M1162.9 325.4L1177.5 310.8" stroke="#D95319" stroke-width="5.4"/>
<path d="M1089.1 348.9L1103.7 363.5M1089.1 363.5L1103.7 348.9" stroke="#D95319" stroke-width="5.4"/>
<path d="M1439.1 366.3L1453.7 380.9M1439.1 380.9L1453.7 366.3" stroke="#D95319" stroke-width="5.4"/>
<path d="M1467.3 306.4L1481.9 321.0M1467.3 321.0L1481.9 306.4" stroke="#D95319" stroke-width="5.4"/>
<path d="M1468.9 264.1L1483.5 278.7M1468.9 278.7L1483.5 264.1" stroke="#D95319" stroke-width="5.4"/>
<path d="M1552.9 298.7L1567.5 313.3M1552.9 313.3L1567.5 298.7" stroke="#D95319" stroke-width="5.4"/>
<path d="M941.5 579.8L956.1 594.4M941.5 594.4L956.1 579.8" stroke="#D95319" stroke-width="5.4"/>
<path d="M978.4 595.3L993.0 609.9M978.4 609.9L993.0 595.3" stroke="#D95319" stroke-width="5.4"/>
<path d="M711.3 603.7L725.9 618.3M711.3 618.3L725.9 603.7" stroke="#D95319" stroke-width="5.4"/>
<path d="M827.7 634.1L842.3 648.7M827.7 648.7L842.3 634.1" stroke="#D95319" stroke-width="5.4"/>
<path d="M949.4 654.8L964.0 669.4M949.4 669.4L964.0 654.8" stroke="#D95319" stroke-width="5.4"/>
<path d="M1243.3 388.2L1257.9 402.8M1243.3 402.8L1257.9 388.2" stroke="#D95319" stroke-width="5.4"/>
<path d="M1665.8 480.6L1680.4 495.2M1665.8 495.2L1680.4 480.6" stroke="#D95319" stroke-width="5.4"/>
<path d="M1007.7 597.1L1022.3 611.7M1007.7 611.7L1022.3 597.1" stroke="#D95319" stroke-width="5.4"/>
<path d="M1002.7 756.5L1017.3 771.1M1002.7 771.1L1017.3 756.5" stroke="#D95319" stroke-width="5.4"/>
<path d="M1240.0 663.4L1254.6 678.0M1240.0 678.0L1254.6 663.4" stroke="#D95319" stroke-width="5.4"/>
<path d="M1270.9 672.9L1285.5 687.5M1270.9 687.5L1285.5 672.9" stroke="#D95319" stroke-width="5.4"/>
<path d="M1428.8 649.8L1443.4 664.4M1428.8 664.4L1443.4 649.8" stroke="#D95319" stroke-width="5.4"/>
<path d="M1693.2 636.7L1707.8 651.3M1693.2 651.3L1707.8 636.7" stroke="#D95319" stroke-width="5.4"/>
<path d="M577.7 867.7L592.3 882.3M577.7 882.3L592.3 867.7" stroke="#D95319" stroke-width="5.4"/>
<path d="M947.0 704.1L961.6 718.7M947.0 718.7L961.6 704.1" stroke="#D95319" stroke-width="5.4"/>
<path d="M763.7 935.6L778.3 950.2M763.7 950.2L778.3 935.6" stroke="#D95319" stroke-width="5.4"/>
<path d="M962.5 1010.6L977.1 1025.2M962.5 1025.2L977.1 1010.6" stroke="#D95319" stroke-width="5.4"/>
<path d="M1462.9 725.1L1477.5 739.7M1462.9 739.7L1477.5 725.1" stroke="#D95319" stroke-width="5.4"/>
<path d="M1689.6 756.6L1704.2 771.2M1689.6 771.2L1704.2 756.6" stroke="#D95319" stroke-width="5.4"/>
<path d="M1756.0 817.3L1770.6 831.9M1756.0 831.9L1770.6 817.3" stroke="#D95319" stroke-width="5.4"/>
<path d="M1004.8 860.3L1019.4 874.9M1004.8 874.9L1019.4 860.3" stroke="#D95319" stroke-width="5.4"/>
<path d="M1125.1 936.5L1139.7 951.1M1125.1 951.1L1139.7 936.5" stroke="#D95319" stroke-width="5.4"/>
<path d="M1239.7 965.7L1254.3 980.3M1239.7 980.3L1254.3 965.7" stroke="#D95319" stroke-width="5.4"/>
<path d="M1319.2 963.7L1333.8 978.3M1319.2 978.3L1333.8 963.7" stroke="#D95319" stroke-width="5.4"/>
<path d="M1263.3 978.5L1277.9 993.1M1263.3 993.1L1277.9 978.5" stroke="#D95319" stroke-width="5.4"/>
<path d="M1589.1 883.7L1603.7 898.3M1589.1 898.3L1603.7 883.7" stroke="#D95319" stroke-width="5.4"/>
<path d="M1607.0 926.5L1621.6 941.1M1607.0 941.1L1621.6 926.5" stroke="#D95319" stroke-width="5.4"/>
<path d="M830.3 1027.2L844.9 1041.8M830.3 1041.8L844.9 1027.2" stroke="#D95319" stroke-width="5.4"/>
<path d="M1039.4 954.8L1054.0 969.4M1039.4 969.4L1054.0 954.8" stroke="#D95319" stroke-width="5.4"/>
<path d="M1298.4 1055.0L1313.0 1069.6M1298.4 1069.6L1313.0 1055.0" stroke="#D95319" stroke-width="5.4"/>
<path d="M1431.3 1001.4L1445.9 1016.0M1431.3 1016.0L1445.9 1001.4" stroke="#D95319" stroke-width="5.4"/>
<path d="M1495.0 1037.1L1509.6 1051.7M1495.0 1051.7L1509.6 1037.1" stroke="#D95319" stroke-width="5.4"/>
<path d="M1158.9 1207.5L1173.5 1222.1M1158.9 1222.1L1173.5 1207.5" stroke="#D95319" stroke-width="5.4"/>
<ellipse cx="994.0" cy="250.7" rx="9.9" ry="9.55" fill="#0072BD"/>
<ellipse cx="1231.4" cy="146.0" rx="9.9" ry="9.55" fill="#0072BD"/>
<ellipse cx="1001.8" cy="297.3" rx="9.9" ry="9.55" fill="#0072BD"/>
<ellipse cx="1346.0" cy="345.7" rx="9.9" ry="9.55" fill="#0072BD"/>
<ellipse cx="1213.8" cy="357.1" rx="9.9" ry="9.55" fill="#0072BD"/>
<ellipse cx="1379.4" cy="372.6" rx="9.9" ry="9.55" fill="#0072BD"/>
<ellipse cx="1477.6" cy="316.1" rx="9.9" ry="9.55" fill="#0072BD"/>
<ellipse cx="1479.8" cy="328.6" rx="9.9" ry="9.55" fill="#0072BD"/>
<ellipse cx="1411.4" cy="241.2" rx="9.9" ry="9.55" fill="#0072BD"/>
<ellipse cx="1435.0" cy="270.2" rx="9.9" ry="9.55" fill="#0072BD"/>
<ellipse cx="1468.3" cy="290.5" rx="9.9" ry="9.55" fill="#0072BD"/>
<ellipse cx="1620.2" cy="278.1" rx="9.9" ry="9.55" fill="#0072BD"/>
<ellipse cx="1628.1" cy="354.8" rx="9.9" ry="9.55" fill="#0072BD"/>
<ellipse cx="1745.7" cy="363.1" rx="9.9" ry="9.55" fill="#0072BD"/>
<ellipse cx="456.0" cy="481.2" rx="9.9" ry="9.55" fill="#0072BD"/>
<ellipse cx="571.4" cy="618.1" rx="9.9" ry="9.55" fill="#0072BD"/>
<ellipse cx="903.6" cy="434.3" rx="9.9" ry="9.55" fill="#0072BD"/>
<ellipse cx="926.2" cy="448.3" rx="9.9" ry="9.55" fill="#0072BD"/>
<ellipse cx="687.6" cy="475.2" rx="9.9" ry="9.55" fill="#0072BD"/>
<ellipse cx="896.4" cy="502.6" rx="9.9" ry="9.55" fill="#0072BD"/>
<ellipse cx="857.6" cy="512.6" rx="9.9" ry="9.55" fill="#0072BD"/>
<ellipse cx="892.4" cy="530.0" rx="9.9" ry="9.55" fill="#0072BD"/>
<ellipse cx="769.0" cy="562.9" rx="9.9" ry="9.55" fill="#0072BD"/>
<ellipse cx="881.4" cy="575.2" rx="9.9" ry="9.55" fill="#0072BD"/>
<ellipse cx="930.5" cy="568.6" rx="9.9" ry="9.55" fill="#0072BD"/>
<ellipse cx="946.4" cy="568.1" rx="9.9" ry="9.55" fill="#0072BD"/>
<ellipse cx="989.3" cy="573.3" rx="9.9" ry="9.55" fill="#0072BD"/>
<ellipse cx="918.6" cy="600.2" rx="9.9" ry="9.55" fill="#0072BD"/>
<ellipse cx="736.2" cy="634.8" rx="9.9" ry="9.55" fill="#0072BD"/>
<ellipse cx="723.1" cy="657.9" rx="9.9" ry="9.55" fill="#0072BD"/>
<ellipse cx="844.8" cy="667.4" rx="9.9" ry="9.55" fill="#0072BD"/>
<ellipse cx="680.2" cy="681.2" rx="9.9" ry="9.55" fill="#0072BD"/>
<ellipse cx="844.8" cy="698.6" rx="9.9" ry="9.55" fill="#0072BD"/>
<ellipse cx="1027.7" cy="462.3" rx="9.9" ry="9.55" fill="#0072BD"/>
<ellipse cx="1098.3" cy="528.3" rx="9.9" ry="9.55" fill="#0072BD"/>
<ellipse cx="1201.8" cy="419.9" rx="9.9" ry="9.55" fill="#0072BD"/>
<ellipse cx="1243.8" cy="508.3" rx="9.9" ry="9.55" fill="#0072BD"/>
<ellipse cx="1234.5" cy="537.1" rx="9.9" ry="9.55" fill="#0072BD"/>
<ellipse cx="1217.9" cy="540.7" rx="9.9" ry="9.55" fill="#0072BD"/>
<ellipse cx="1346.0" cy="390.2" rx="9.9" ry="9.55" fill="#0072BD"/>
<ellipse cx="1310.0" cy="458.7" rx="9.9" ry="9.55" fill="#0072BD"/>
<ellipse cx="1346.5" cy="472.4" rx="9.9" ry="9.55" fill="#0072BD"/>
<ellipse cx="1361.4" cy="464.0" rx="9.9" ry="9.55" fill="#0072BD"/>
<ellipse cx="1399.3" cy="462.9" rx="9.9" ry="9.55" fill="#0072BD"/>
<ellipse cx="1356.1" cy="490.2" rx="9.9" ry="9.55" fill="#0072BD"/>
<ellipse cx="1354.9" cy="496.2" rx="9.9" ry="9.55" fill="#0072BD"/>
<ellipse cx="1361.2" cy="506.9" rx="9.9" ry="9.55" fill="#0072BD"/>
<ellipse cx="1367.4" cy="521.0" rx="9.9" ry="9.55" fill="#0072BD"/>
<ellipse cx="1497.0" cy="401.5" rx="9.9" ry="9.55" fill="#0072BD"/>
<ellipse cx="1515.7" cy="486.7" rx="9.9" ry="9.55" fill="#0072BD"/>
<ellipse cx="1544.9" cy="501.5" rx="9.9" ry="9.55" fill="#0072BD"/>
<ellipse cx="1929.3" cy="524.5" rx="9.9" ry="9.55" fill="#0072BD"/>
<ellipse cx="1927.9" cy="559.3" rx="9.9" ry="9.55" fill="#0072BD"/>
<ellipse cx="1850.5" cy="630.0" rx="9.9" ry="9.55" fill="#0072BD"/>
<ellipse cx="1888.6" cy="653.1" rx="9.9" ry="9.55" fill="#0072BD"/>
<ellipse cx="1034.0" cy="544.9" rx="9.9" ry="9.55" fill="#0072BD"/>
<ellipse cx="1040.0" cy="538.3" rx="9.9" ry="9.55" fill="#0072BD"/>
<ellipse cx="1157.0" cy="596.1" rx="9.9" ry="9.55" fill="#0072BD"/>
<ellipse cx="1020.7" cy="593.9" rx="9.9" ry="9.55" fill="#0072BD"/>
<ellipse cx="1097.5" cy="612.7" rx="9.9" ry="9.55" fill="#0072BD"/>
<ellipse cx="1063.2" cy="641.3" rx="9.9" ry="9.55" fill="#0072BD"/>
<ellipse cx="1084.0" cy="639.3" rx="9.9" ry="9.55" fill="#0072BD"/>
<ellipse cx="1103.9" cy="646.4" rx="9.9" ry="9.55" fill="#0072BD"/>
<ellipse cx="1153.7" cy="625.2" rx="9.9" ry="9.55" fill="#0072BD"/>
<ellipse cx="1159.0" cy="629.4" rx="9.9" ry="9.55" fill="#0072BD"/>
<ellipse cx="1160.2" cy="659.2" rx="9.9" ry="9.55" fill="#0072BD"/>
<ellipse cx="1181.7" cy="653.8" rx="9.9" ry="9.55" fill="#0072BD"/>
<ellipse cx="1171.0" cy="662.1" rx="9.9" ry="9.55" fill="#0072BD"/>
<ellipse cx="1188.2" cy="666.9" rx="9.9" ry="9.55" fill="#0072BD"/>
<ellipse cx="1154.3" cy="666.9" rx="9.9" ry="9.55" fill="#0072BD"/>
<ellipse cx="1135.8" cy="672.3" rx="9.9" ry="9.55" fill="#0072BD"/>
<ellipse cx="1123.9" cy="689.5" rx="9.9" ry="9.55" fill="#0072BD"/>
<ellipse cx="1097.1" cy="690.7" rx="9.9" ry="9.55" fill="#0072BD"/>
<ellipse cx="1026.1" cy="666.8" rx="9.9" ry="9.55" fill="#0072BD"/>
<ellipse cx="1020.1" cy="676.9" rx="9.9" ry="9.55" fill="#0072BD"/>
<ellipse cx="1154.0" cy="705.5" rx="9.9" ry="9.55" fill="#0072BD"/>
<ellipse cx="1008.8" cy="703.1" rx="9.9" ry="9.55" fill="#0072BD"/>
<ellipse cx="1018.3" cy="713.8" rx="9.9" ry="9.55" fill="#0072BD"/>
<ellipse cx="966.5" cy="735.2" rx="9.9" ry="9.55" fill="#0072BD"/>
<ellipse cx="1066.5" cy="732.3" rx="9.9" ry="9.55" fill="#0072BD"/>
<ellipse cx="1079.0" cy="738.8" rx="9.9" ry="9.55" fill="#0072BD"/>
<ellipse cx="1076.1" cy="742.4" rx="9.9" ry="9.55" fill="#0072BD"/>
<ellipse cx="1117.1" cy="713.2" rx="9.9" ry="9.55" fill="#0072BD"/>
<ellipse cx="1152.3" cy="736.4" rx="9.9" ry="9.55" fill="#0072BD"/>
<ellipse cx="1153.5" cy="760.2" rx="9.9" ry="9.55" fill="#0072BD"/>
<ellipse cx="1112.1" cy="760.2" rx="9.9" ry="9.55" fill="#0072BD"/>
<ellipse cx="1130.8" cy="777.5" rx="9.9" ry="9.55" fill="#0072BD"/>
<ellipse cx="986.2" cy="757.9" rx="9.9" ry="9.55" fill="#0072BD"/>
<ellipse cx="1067.7" cy="786.4" rx="9.9" ry="9.55" fill="#0072BD"/>
<ellipse cx="1060.0" cy="791.8" rx="9.9" ry="9.55" fill="#0072BD"/>
<ellipse cx="1117.1" cy="801.9" rx="9.9" ry="9.55" fill="#0072BD"/>
<ellipse cx="1242.5" cy="560.0" rx="9.9" ry="9.55" fill="#0072BD"/>
<ellipse cx="1366.7" cy="575.7" rx="9.9" ry="9.55" fill="#0072BD"/>
<ellipse cx="1368.3" cy="603.8" rx="9.9" ry="9.55" fill="#0072BD"/>
<ellipse cx="1249.6" cy="606.2" rx="9.9" ry="9.55" fill="#0072BD"/>
<ellipse cx="1247.9" cy="636.8" rx="9.9" ry="9.55" fill="#0072BD"/>
<ellipse cx="1289.5" cy="618.1" rx="9.9" ry="9.55" fill="#0072BD"/>
<ellipse cx="1306.4" cy="646.9" rx="9.9" ry="9.55" fill="#0072BD"/>
<ellipse cx="1331.2" cy="652.9" rx="9.9" ry="9.55" fill="#0072BD"/>
<ellipse cx="1346.1" cy="649.9" rx="9.9" ry="9.55" fill="#0072BD"/>
<ellipse cx="1351.4" cy="663.0" rx="9.9" ry="9.55" fill="#0072BD"/>
<ellipse cx="1340.7" cy="671.3" rx="9.9" ry="9.55" fill="#0072BD"/>
<ellipse cx="1349.0" cy="687.4" rx="9.9" ry="9.55" fill="#0072BD"/>
<ellipse cx="1228.6" cy="669.3" rx="9.9" ry="9.55" fill="#0072BD"/>
<ellipse cx="1239.5" cy="690.4" rx="9.9" ry="9.55" fill="#0072BD"/>
<ellipse cx="1299.4" cy="668.3" rx="9.9" ry="9.55" fill="#0072BD"/>
<ellipse cx="1280.0" cy="693.3" rx="9.9" ry="9.55" fill="#0072BD"/>
<ellipse cx="1324.0" cy="694.5" rx="9.9" ry="9.55" fill="#0072BD"/>
<ellipse cx="1412.9" cy="572.6" rx="9.9" ry="9.55" fill="#0072BD"/>
<ellipse cx="1442.0" cy="564.9" rx="9.9" ry="9.55" fill="#0072BD"/>
<ellipse cx="1395.0" cy="594.0" rx="9.9" ry="9.55" fill="#0072BD"/>
<ellipse cx="1402.1" cy="616.7" rx="9.9" ry="9.55" fill="#0072BD"/>
<ellipse cx="1392.4" cy="635.7" rx="9.9" ry="9.55" fill="#0072BD"/>
<ellipse cx="1410.5" cy="638.1" rx="9.9" ry="9.55" fill="#0072BD"/>
<ellipse cx="1415.2" cy="639.3" rx="9.9" ry="9.55" fill="#0072BD"/>
<ellipse cx="1461.4" cy="629.8" rx="9.9" ry="9.55" fill="#0072BD"/>
<ellipse cx="1389.0" cy="672.0" rx="9.9" ry="9.55" fill="#0072BD"/>
<ellipse cx="1412.9" cy="675.6" rx="9.9" ry="9.55" fill="#0072BD"/>
<ellipse cx="1421.2" cy="669.0" rx="9.9" ry="9.55" fill="#0072BD"/>
<ellipse cx="1433.1" cy="665.5" rx="9.9" ry="9.55" fill="#0072BD"/>
<ellipse cx="1447.4" cy="670.2" rx="9.9" ry="9.55" fill="#0072BD"/>
<ellipse cx="1458.1" cy="684.5" rx="9.9" ry="9.55" fill="#0072BD"/>
<ellipse cx="1473.6" cy="679.8" rx="9.9" ry="9.55" fill="#0072BD"/>
<ellipse cx="1482.5" cy="666.7" rx="9.9" ry="9.55" fill="#0072BD"/>
<ellipse cx="1493.8" cy="673.2" rx="9.9" ry="9.55" fill="#0072BD"/>
<ellipse cx="1529.5" cy="688.1" rx="9.9" ry="9.55" fill="#0072BD"/>
<ellipse cx="1522.7" cy="613.1" rx="9.9" ry="9.55" fill="#0072BD"/>
<ellipse cx="1564.6" cy="610.1" rx="9.9" ry="9.55" fill="#0072BD"/>
<ellipse cx="1503.9" cy="567.9" rx="9.9" ry="9.55" fill="#0072BD"/>
<ellipse cx="1506.9" cy="586.9" rx="9.9" ry="9.55" fill="#0072BD"/>
<ellipse cx="1580.8" cy="561.3" rx="9.9" ry="9.55" fill="#0072BD"/>
<ellipse cx="1628.1" cy="549.4" rx="9.9" ry="9.55" fill="#0072BD"/>
<ellipse cx="1644.8" cy="580.4" rx="9.9" ry="9.55" fill="#0072BD"/>
<ellipse cx="1691.9" cy="583.3" rx="9.9" ry="9.55" fill="#0072BD"/>
<ellipse cx="1593.6" cy="619.0" rx="9.9" ry="9.55" fill="#0072BD"/>
<ellipse cx="1630.2" cy="639.3" rx="9.9" ry="9.55" fill="#0072BD"/>
<ellipse cx="1638.0" cy="642.9" rx="9.9" ry="9.55" fill="#0072BD"/>
<ellipse cx="1676.4" cy="645.8" rx="9.9" ry="9.55" fill="#0072BD"/>
<ellipse cx="1714.8" cy="655.9" rx="9.9" ry="9.55" fill="#0072BD"/>
<ellipse cx="1720.7" cy="619.6" rx="9.9" ry="9.55" fill="#0072BD"/>
<ellipse cx="1595.7" cy="667.3" rx="9.9" ry="9.55" fill="#0072BD"/>
<ellipse cx="1613.3" cy="671.4" rx="9.9" ry="9.55" fill="#0072BD"/>
<ellipse cx="1632.0" cy="678.6" rx="9.9" ry="9.55" fill="#0072BD"/>
<ellipse cx="1638.6" cy="685.7" rx="9.9" ry="9.55" fill="#0072BD"/>
<ellipse cx="1754.0" cy="684.5" rx="9.9" ry="9.55" fill="#0072BD"/>
<ellipse cx="1776.8" cy="578.9" rx="9.9" ry="9.55" fill="#0072BD"/>
<ellipse cx="1775.0" cy="636.4" rx="9.9" ry="9.55" fill="#0072BD"/>
<ellipse cx="1770.5" cy="658.3" rx="9.9" ry="9.55" fill="#0072BD"/>
<ellipse cx="782.4" cy="711.9" rx="9.9" ry="9.55" fill="#0072BD"/>
<ellipse cx="873.8" cy="731.0" rx="9.9" ry="9.55" fill="#0072BD"/>
<ellipse cx="874.5" cy="763.1" rx="9.9" ry="9.55" fill="#0072BD"/>
<ellipse cx="906.7" cy="782.9" rx="9.9" ry="9.55" fill="#0072BD"/>
<ellipse cx="934.0" cy="788.1" rx="9.9" ry="9.55" fill="#0072BD"/>
<ellipse cx="637.6" cy="807.6" rx="9.9" ry="9.55" fill="#0072BD"/>
<ellipse cx="747.9" cy="845.7" rx="9.9" ry="9.55" fill="#0072BD"/>
<ellipse cx="949.5" cy="811.9" rx="9.9" ry="9.55" fill="#0072BD"/>
<ellipse cx="969.8" cy="819.0" rx="9.9" ry="9.55" fill="#0072BD"/>
<ellipse cx="880.0" cy="859.0" rx="9.9" ry="9.55" fill="#0072BD"/>
<ellipse cx="885.2" cy="863.8" rx="9.9" ry="9.55" fill="#0072BD"/>
<ellipse cx="903.8" cy="855.2" rx="9.9" ry="9.55" fill="#0072BD"/>
<ellipse cx="975.0" cy="858.3" rx="9.9" ry="9.55" fill="#0072BD"/>
<ellipse cx="616.2" cy="882.9" rx="9.9" ry="9.55" fill="#0072BD"/>
<ellipse cx="818.1" cy="899.5" rx="9.9" ry="9.55" fill="#0072BD"/>
<ellipse cx="841.9" cy="921.0" rx="9.9" ry="9.55" fill="#0072BD"/>
<ellipse cx="864.5" cy="925.7" rx="9.9" ry="9.55" fill="#0072BD"/>
<ellipse cx="899.0" cy="913.1" rx="9.9" ry="9.55" fill="#0072BD"/>
<ellipse cx="936.4" cy="925.0" rx="9.9" ry="9.55" fill="#0072BD"/>
<ellipse cx="966.2" cy="920.2" rx="9.9" ry="9.55" fill="#0072BD"/>
<ellipse cx="710.2" cy="940.5" rx="9.9" ry="9.55" fill="#0072BD"/>
<ellipse cx="757.9" cy="937.6" rx="9.9" ry="9.55" fill="#0072BD"/>
<ellipse cx="866.2" cy="942.9" rx="9.9" ry="9.55" fill="#0072BD"/>
<ellipse cx="851.9" cy="953.6" rx="9.9" ry="9.55" fill="#0072BD"/>
<ellipse cx="836.4" cy="972.6" rx="9.9" ry="9.55" fill="#0072BD"/>
<ellipse cx="931.0" cy="945.2" rx="9.9" ry="9.55" fill="#0072BD"/>
<ellipse cx="981.7" cy="965.5" rx="9.9" ry="9.55" fill="#0072BD"/>
<ellipse cx="883.3" cy="984.5" rx="9.9" ry="9.55" fill="#0072BD"/>
<ellipse cx="921.0" cy="993.3" rx="9.9" ry="9.55" fill="#0072BD"/>
<ellipse cx="926.9" cy="1009.0" rx="9.9" ry="9.55" fill="#0072BD"/>
<ellipse cx="984.0" cy="1011.9" rx="9.9" ry="9.55" fill="#0072BD"/>
<ellipse cx="644.3" cy="1021.4" rx="9.9" ry="9.55" fill="#0072BD"/>
<ellipse cx="1170.1" cy="711.4" rx="9.9" ry="9.55" fill="#0072BD"/>
<ellipse cx="1218.6" cy="739.0" rx="9.9" ry="9.55" fill="#0072BD"/>
<ellipse cx="1189.8" cy="769.5" rx="9.9" ry="9.55" fill="#0072BD"/>
<ellipse cx="1180.2" cy="781.7" rx="9.9" ry="9.55" fill="#0072BD"/>
<ellipse cx="1178.5" cy="791.2" rx="9.9" ry="9.55" fill="#0072BD"/>
<ellipse cx="1206.4" cy="793.0" rx="9.9" ry="9.55" fill="#0072BD"/>
<ellipse cx="1212.4" cy="800.1" rx="9.9" ry="9.55" fill="#0072BD"/>
<ellipse cx="1230.5" cy="799.8" rx="9.9" ry="9.55" fill="#0072BD"/>
<ellipse cx="1246.7" cy="769.2" rx="9.9" ry="9.55" fill="#0072BD"/>
<ellipse cx="1242.7" cy="782.9" rx="9.9" ry="9.55" fill="#0072BD"/>
<ellipse cx="1238.8" cy="825.7" rx="9.9" ry="9.55" fill="#0072BD"/>
<ellipse cx="1238.6" cy="843.6" rx="9.9" ry="9.55" fill="#0072BD"/>
<ellipse cx="1226.7" cy="851.9" rx="9.9" ry="9.55" fill="#0072BD"/>
<ellipse cx="1264.2" cy="837.6" rx="9.9" ry="9.55" fill="#0072BD"/>
<ellipse cx="1269.5" cy="847.1" rx="9.9" ry="9.55" fill="#0072BD"/>
<ellipse cx="1276.7" cy="704.9" rx="9.9" ry="9.55" fill="#0072BD"/>
<ellipse cx="1295.7" cy="704.9" rx="9.9" ry="9.55" fill="#0072BD"/>
<ellipse cx="1311.2" cy="704.3" rx="9.9" ry="9.55" fill="#0072BD"/>
<ellipse cx="1331.4" cy="705.5" rx="9.9" ry="9.55" fill="#0072BD"/>
<ellipse cx="1352.9" cy="706.7" rx="9.9" ry="9.55" fill="#0072BD"/>
<ellipse cx="1357.6" cy="719.8" rx="9.9" ry="9.55" fill="#0072BD"/>
<ellipse cx="1309.4" cy="721.5" rx="9.9" ry="9.55" fill="#0072BD"/>
<ellipse cx="1284.4" cy="734.6" rx="9.9" ry="9.55" fill="#0072BD"/>
<ellipse cx="1280.2" cy="746.5" rx="9.9" ry="9.55" fill="#0072BD"/>
<ellipse cx="1320.7" cy="735.2" rx="9.9" ry="9.55" fill="#0072BD"/>
<ellipse cx="1274.3" cy="772.7" rx="9.9" ry="9.55" fill="#0072BD"/>
<ellipse cx="1309.4" cy="760.2" rx="9.9" ry="9.55" fill="#0072BD"/>
<ellipse cx="1329.6" cy="779.3" rx="9.9" ry="9.55" fill="#0072BD"/>
<ellipse cx="1350.5" cy="785.2" rx="9.9" ry="9.55" fill="#0072BD"/>
<ellipse cx="1280.5" cy="796.0" rx="9.9" ry="9.55" fill="#0072BD"/>
<ellipse cx="1295.1" cy="806.7" rx="9.9" ry="9.55" fill="#0072BD"/>
<ellipse cx="1324.9" cy="824.5" rx="9.9" ry="9.55" fill="#0072BD"/>
<ellipse cx="1329.0" cy="836.4" rx="9.9" ry="9.55" fill="#0072BD"/>
<ellipse cx="1310.6" cy="839.4" rx="9.9" ry="9.55" fill="#0072BD"/>
<ellipse cx="1348.1" cy="846.0" rx="9.9" ry="9.55" fill="#0072BD"/>
<ellipse cx="1520.2" cy="708.6" rx="9.9" ry="9.55" fill="#0072BD"/>
<ellipse cx="1364.3" cy="706.2" rx="9.9" ry="9.55" fill="#0072BD"/>
<ellipse cx="1361.9" cy="715.7" rx="9.9" ry="9.55" fill="#0072BD"/>
<ellipse cx="1378.6" cy="716.9" rx="9.9" ry="9.55" fill="#0072BD"/>
<ellipse cx="1400.6" cy="724.0" rx="9.9" ry="9.55" fill="#0072BD"/>
<ellipse cx="1388.1" cy="734.2" rx="9.9" ry="9.55" fill="#0072BD"/>
<ellipse cx="1408.9" cy="736.9" rx="9.9" ry="9.55" fill="#0072BD"/>
<ellipse cx="1432.7" cy="719.9" rx="9.9" ry="9.55" fill="#0072BD"/>
<ellipse cx="1450.0" cy="719.3" rx="9.9" ry="9.55" fill="#0072BD"/>
<ellipse cx="1464.3" cy="722.9" rx="9.9" ry="9.55" fill="#0072BD"/>
<ellipse cx="1490.2" cy="725.8" rx="9.9" ry="9.55" fill="#0072BD"/>
<ellipse cx="1386.3" cy="790.7" rx="9.9" ry="9.55" fill="#0072BD"/>
<ellipse cx="1384.5" cy="800.2" rx="9.9" ry="9.55" fill="#0072BD"/>
<ellipse cx="1436.3" cy="776.4" rx="9.9" ry="9.55" fill="#0072BD"/>
<ellipse cx="1442.3" cy="783.6" rx="9.9" ry="9.55" fill="#0072BD"/>
<ellipse cx="1452.4" cy="781.8" rx="9.9" ry="9.55" fill="#0072BD"/>
<ellipse cx="1474.0" cy="775.2" rx="9.9" ry="9.55" fill="#0072BD"/>
<ellipse cx="1503.6" cy="757.4" rx="9.9" ry="9.55" fill="#0072BD"/>
<ellipse cx="1514.9" cy="761.0" rx="9.9" ry="9.55" fill="#0072BD"/>
<ellipse cx="1538.7" cy="798.5" rx="9.9" ry="9.55" fill="#0072BD"/>
<ellipse cx="1517.3" cy="809.2" rx="9.9" ry="9.55" fill="#0072BD"/>
<ellipse cx="1500.0" cy="824.0" rx="9.9" ry="9.55" fill="#0072BD"/>
<ellipse cx="1437.5" cy="806.8" rx="9.9" ry="9.55" fill="#0072BD"/>
<ellipse cx="1458.9" cy="807.4" rx="9.9" ry="9.55" fill="#0072BD"/>
<ellipse cx="1472.6" cy="803.8" rx="9.9" ry="9.55" fill="#0072BD"/>
<ellipse cx="1476.2" cy="815.7" rx="9.9" ry="9.55" fill="#0072BD"/>
<ellipse cx="1416.1" cy="821.7" rx="9.9" ry="9.55" fill="#0072BD"/>
<ellipse cx="1406.5" cy="830.0" rx="9.9" ry="9.55" fill="#0072BD"/>
<ellipse cx="1553.7" cy="705.0" rx="9.9" ry="9.55" fill="#0072BD"/>
<ellipse cx="1606.1" cy="738.3" rx="9.9" ry="9.55" fill="#0072BD"/>
<ellipse cx="1557.6" cy="738.3" rx="9.9" ry="9.55" fill="#0072BD"/>
<ellipse cx="1668.6" cy="718.1" rx="9.9" ry="9.55" fill="#0072BD"/>
<ellipse cx="1668.6" cy="737.7" rx="9.9" ry="9.55" fill="#0072BD"/>
<ellipse cx="1676.9" cy="738.9" rx="9.9" ry="9.55" fill="#0072BD"/>
<ellipse cx="1706.4" cy="717.1" rx="9.9" ry="9.55" fill="#0072BD"/>
<ellipse cx="1696.9" cy="753.6" rx="9.9" ry="9.55" fill="#0072BD"/>
<ellipse cx="1679.3" cy="784.2" rx="9.9" ry="9.55" fill="#0072BD"/>
<ellipse cx="1623.1" cy="766.3" rx="9.9" ry="9.55" fill="#0072BD"/>
<ellipse cx="1579.3" cy="763.3" rx="9.9" ry="9.55" fill="#0072BD"/>
<ellipse cx="1594.2" cy="762.1" rx="9.9" ry="9.55" fill="#0072BD"/>
<ellipse cx="1583.5" cy="775.2" rx="9.9" ry="9.55" fill="#0072BD"/>
<ellipse cx="1610.8" cy="816.9" rx="9.9" ry="9.55" fill="#0072BD"/>
<ellipse cx="1725.1" cy="833.6" rx="9.9" ry="9.55" fill="#0072BD"/>
<ellipse cx="1709.0" cy="796.7" rx="9.9" ry="9.55" fill="#0072BD"/>
<ellipse cx="1723.3" cy="799.6" rx="9.9" ry="9.55" fill="#0072BD"/>
<ellipse cx="1735.2" cy="807.4" rx="9.9" ry="9.55" fill="#0072BD"/>
<ellipse cx="1878.8" cy="734.8" rx="9.9" ry="9.55" fill="#0072BD"/>
<ellipse cx="1908.0" cy="725.5" rx="9.9" ry="9.55" fill="#0072BD"/>
<ellipse cx="1836.5" cy="821.7" rx="9.9" ry="9.55" fill="#0072BD"/>
<ellipse cx="1925.2" cy="812.7" rx="9.9" ry="9.55" fill="#0072BD"/>
<ellipse cx="2028.0" cy="842.9" rx="9.9" ry="9.55" fill="#0072BD"/>
<ellipse cx="1916.4" cy="1000.0" rx="9.9" ry="9.55" fill="#0072BD"/>
<ellipse cx="1009.8" cy="811.1" rx="9.9" ry="9.55" fill="#0072BD"/>
<ellipse cx="994.0" cy="844.8" rx="9.9" ry="9.55" fill="#0072BD"/>
<ellipse cx="1122.3" cy="812.9" rx="9.9" ry="9.55" fill="#0072BD"/>
<ellipse cx="1120.5" cy="830.1" rx="9.9" ry="9.55" fill="#0072BD"/>
<ellipse cx="1047.9" cy="833.1" rx="9.9" ry="9.55" fill="#0072BD"/>
<ellipse cx="1053.8" cy="843.8" rx="9.9" ry="9.55" fill="#0072BD"/>
<ellipse cx="1104.8" cy="848.3" rx="9.9" ry="9.55" fill="#0072BD"/>
<ellipse cx="1027.0" cy="877.1" rx="9.9" ry="9.55" fill="#0072BD"/>
<ellipse cx="1091.9" cy="871.2" rx="9.9" ry="9.55" fill="#0072BD"/>
<ellipse cx="1089.5" cy="887.3" rx="9.9" ry="9.55" fill="#0072BD"/>
<ellipse cx="1051.4" cy="895.0" rx="9.9" ry="9.55" fill="#0072BD"/>
<ellipse cx="1061.0" cy="894.4" rx="9.9" ry="9.55" fill="#0072BD"/>
<ellipse cx="1024.0" cy="903.3" rx="9.9" ry="9.55" fill="#0072BD"/>
<ellipse cx="1125.2" cy="882.5" rx="9.9" ry="9.55" fill="#0072BD"/>
<ellipse cx="1141.9" cy="881.3" rx="9.9" ry="9.55" fill="#0072BD"/>
<ellipse cx="1156.2" cy="865.2" rx="9.9" ry="9.55" fill="#0072BD"/>
<ellipse cx="1149.0" cy="871.2" rx="9.9" ry="9.55" fill="#0072BD"/>
<ellipse cx="1168.1" cy="880.7" rx="9.9" ry="9.55" fill="#0072BD"/>
<ellipse cx="1176.4" cy="871.2" rx="9.9" ry="9.55" fill="#0072BD"/>
<ellipse cx="1120.5" cy="909.3" rx="9.9" ry="9.55" fill="#0072BD"/>
<ellipse cx="1144.0" cy="909.9" rx="9.9" ry="9.55" fill="#0072BD"/>
<ellipse cx="1165.7" cy="926.0" rx="9.9" ry="9.55" fill="#0072BD"/>
<ellipse cx="1175.2" cy="941.4" rx="9.9" ry="9.55" fill="#0072BD"/>
<ellipse cx="1131.2" cy="949.2" rx="9.9" ry="9.55" fill="#0072BD"/>
<ellipse cx="999.0" cy="946.2" rx="9.9" ry="9.55" fill="#0072BD"/>
<ellipse cx="1280.7" cy="857.9" rx="9.9" ry="9.55" fill="#0072BD"/>
<ellipse cx="1295.0" cy="869.8" rx="9.9" ry="9.55" fill="#0072BD"/>
<ellipse cx="1301.0" cy="866.2" rx="9.9" ry="9.55" fill="#0072BD"/>
<ellipse cx="1318.8" cy="860.2" rx="9.9" ry="9.55" fill="#0072BD"/>
<ellipse cx="1224.2" cy="884.6" rx="9.9" ry="9.55" fill="#0072BD"/>
<ellipse cx="1226.0" cy="896.0" rx="9.9" ry="9.55" fill="#0072BD"/>
<ellipse cx="1236.7" cy="899.5" rx="9.9" ry="9.55" fill="#0072BD"/>
<ellipse cx="1246.2" cy="909.0" rx="9.9" ry="9.55" fill="#0072BD"/>
<ellipse cx="1196.0" cy="921.0" rx="9.9" ry="9.55" fill="#0072BD"/>
<ellipse cx="1220.6" cy="923.3" rx="9.9" ry="9.55" fill="#0072BD"/>
<ellipse cx="1185.5" cy="943.6" rx="9.9" ry="9.55" fill="#0072BD"/>
<ellipse cx="1208.1" cy="947.1" rx="9.9" ry="9.55" fill="#0072BD"/>
<ellipse cx="1224.8" cy="944.8" rx="9.9" ry="9.55" fill="#0072BD"/>
<ellipse cx="1253.9" cy="938.2" rx="9.9" ry="9.55" fill="#0072BD"/>
<ellipse cx="1237.3" cy="971.5" rx="9.9" ry="9.55" fill="#0072BD"/>
<ellipse cx="1268.6" cy="874.5" rx="9.9" ry="9.55" fill="#0072BD"/>
<ellipse cx="1273.0" cy="887.6" rx="9.9" ry="9.55" fill="#0072BD"/>
<ellipse cx="1276.0" cy="897.1" rx="9.9" ry="9.55" fill="#0072BD"/>
<ellipse cx="1312.3" cy="907.9" rx="9.9" ry="9.55" fill="#0072BD"/>
<ellipse cx="1323.6" cy="921.5" rx="9.9" ry="9.55" fill="#0072BD"/>
<ellipse cx="1328.3" cy="879.9" rx="9.9" ry="9.55" fill="#0072BD"/>
<ellipse cx="1342.6" cy="886.4" rx="9.9" ry="9.55" fill="#0072BD"/>
<ellipse cx="1281.3" cy="921.0" rx="9.9" ry="9.55" fill="#0072BD"/>
<ellipse cx="1289.0" cy="925.7" rx="9.9" ry="9.55" fill="#0072BD"/>
<ellipse cx="1277.7" cy="946.0" rx="9.9" ry="9.55" fill="#0072BD"/>
<ellipse cx="1308.1" cy="956.1" rx="9.9" ry="9.55" fill="#0072BD"/>
<ellipse cx="1324.8" cy="951.9" rx="9.9" ry="9.55" fill="#0072BD"/>
<ellipse cx="1301.5" cy="982.9" rx="9.9" ry="9.55" fill="#0072BD"/>
<ellipse cx="1281.3" cy="990.6" rx="9.9" ry="9.55" fill="#0072BD"/>
<ellipse cx="1439.2" cy="843.9" rx="9.9" ry="9.55" fill="#0072BD"/>
<ellipse cx="1448.1" cy="845.7" rx="9.9" ry="9.55" fill="#0072BD"/>
<ellipse cx="1387.4" cy="857.6" rx="9.9" ry="9.55" fill="#0072BD"/>
<ellipse cx="1396.9" cy="852.9" rx="9.9" ry="9.55" fill="#0072BD"/>
<ellipse cx="1384.4" cy="881.4" rx="9.9" ry="9.55" fill="#0072BD"/>
<ellipse cx="1401.1" cy="920.1" rx="9.9" ry="9.55" fill="#0072BD"/>
<ellipse cx="1413.0" cy="914.8" rx="9.9" ry="9.55" fill="#0072BD"/>
<ellipse cx="1458.6" cy="897.5" rx="9.9" ry="9.55" fill="#0072BD"/>
<ellipse cx="1440.4" cy="905.2" rx="9.9" ry="9.55" fill="#0072BD"/>
<ellipse cx="1452.3" cy="916.0" rx="9.9" ry="9.55" fill="#0072BD"/>
<ellipse cx="1480.8" cy="860.0" rx="9.9" ry="9.55" fill="#0072BD"/>
<ellipse cx="1518.3" cy="849.9" rx="9.9" ry="9.55" fill="#0072BD"/>
<ellipse cx="1535.6" cy="863.0" rx="9.9" ry="9.55" fill="#0072BD"/>
<ellipse cx="1556.4" cy="845.7" rx="9.9" ry="9.55" fill="#0072BD"/>
<ellipse cx="1552.9" cy="886.2" rx="9.9" ry="9.55" fill="#0072BD"/>
<ellipse cx="1556.4" cy="896.9" rx="9.9" ry="9.55" fill="#0072BD"/>
<ellipse cx="1493.3" cy="924.9" rx="9.9" ry="9.55" fill="#0072BD"/>
<ellipse cx="1512.4" cy="921.9" rx="9.9" ry="9.55" fill="#0072BD"/>
<ellipse cx="1493.3" cy="941.5" rx="9.9" ry="9.55" fill="#0072BD"/>
<ellipse cx="1502.9" cy="937.4" rx="9.9" ry="9.55" fill="#0072BD"/>
<ellipse cx="1517.1" cy="942.1" rx="9.9" ry="9.55" fill="#0072BD"/>
<ellipse cx="1476.1" cy="958.2" rx="9.9" ry="9.55" fill="#0072BD"/>
<ellipse cx="1498.7" cy="958.2" rx="9.9" ry="9.55" fill="#0072BD"/>
<ellipse cx="1535.6" cy="960.0" rx="9.9" ry="9.55" fill="#0072BD"/>
<ellipse cx="1548.1" cy="968.9" rx="9.9" ry="9.55" fill="#0072BD"/>
<ellipse cx="1508.2" cy="976.7" rx="9.9" ry="9.55" fill="#0072BD"/>
<ellipse cx="1398.7" cy="986.2" rx="9.9" ry="9.55" fill="#0072BD"/>
<ellipse cx="1408.8" cy="998.1" rx="9.9" ry="9.55" fill="#0072BD"/>
<ellipse cx="1453.5" cy="994.5" rx="9.9" ry="9.55" fill="#0072BD"/>
<ellipse cx="1560.7" cy="846.3" rx="9.9" ry="9.55" fill="#0072BD"/>
<ellipse cx="1565.2" cy="857.0" rx="9.9" ry="9.55" fill="#0072BD"/>
<ellipse cx="1576.8" cy="874.3" rx="9.9" ry="9.55" fill="#0072BD"/>
<ellipse cx="1612.5" cy="866.5" rx="9.9" ry="9.55" fill="#0072BD"/>
<ellipse cx="1604.2" cy="878.5" rx="9.9" ry="9.55" fill="#0072BD"/>
<ellipse cx="1634.8" cy="878.5" rx="9.9" ry="9.55" fill="#0072BD"/>
<ellipse cx="1671.7" cy="883.2" rx="9.9" ry="9.55" fill="#0072BD"/>
<ellipse cx="1571.4" cy="891.0" rx="9.9" ry="9.55" fill="#0072BD"/>
<ellipse cx="1584.5" cy="920.7" rx="9.9" ry="9.55" fill="#0072BD"/>
<ellipse cx="1623.8" cy="936.2" rx="9.9" ry="9.55" fill="#0072BD"/>
<ellipse cx="1593.5" cy="942.7" rx="9.9" ry="9.55" fill="#0072BD"/>
<ellipse cx="1583.9" cy="948.7" rx="9.9" ry="9.55" fill="#0072BD"/>
<ellipse cx="1566.1" cy="970.7" rx="9.9" ry="9.55" fill="#0072BD"/>
<ellipse cx="1597.6" cy="970.7" rx="9.9" ry="9.55" fill="#0072BD"/>
<ellipse cx="1586.9" cy="983.8" rx="9.9" ry="9.55" fill="#0072BD"/>
<ellipse cx="1655.4" cy="982.0" rx="9.9" ry="9.55" fill="#0072BD"/>
<ellipse cx="1663.7" cy="998.1" rx="9.9" ry="9.55" fill="#0072BD"/>
<ellipse cx="1768.3" cy="913.8" rx="9.9" ry="9.55" fill="#0072BD"/>
<ellipse cx="1865.0" cy="907.9" rx="9.9" ry="9.55" fill="#0072BD"/>
<ellipse cx="476.2" cy="1038.1" rx="9.9" ry="9.55" fill="#0072BD"/>
<ellipse cx="713.1" cy="1040.2" rx="9.9" ry="9.55" fill="#0072BD"/>
<ellipse cx="754.3" cy="1061.7" rx="9.9" ry="9.55" fill="#0072BD"/>
<ellipse cx="939.5" cy="1033.8" rx="9.9" ry="9.55" fill="#0072BD"/>
<ellipse cx="937.6" cy="1090.2" rx="9.9" ry="9.55" fill="#0072BD"/>
<ellipse cx="946.0" cy="1093.3" rx="9.9" ry="9.55" fill="#0072BD"/>
<ellipse cx="978.6" cy="1218.8" rx="9.9" ry="9.55" fill="#0072BD"/>
<ellipse cx="1018.7" cy="986.0" rx="9.9" ry="9.55" fill="#0072BD"/>
<ellipse cx="1072.3" cy="986.2" rx="9.9" ry="9.55" fill="#0072BD"/>
<ellipse cx="1111.0" cy="970.5" rx="9.9" ry="9.55" fill="#0072BD"/>
<ellipse cx="1105.0" cy="981.2" rx="9.9" ry="9.55" fill="#0072BD"/>
<ellipse cx="1143.1" cy="974.0" rx="9.9" ry="9.55" fill="#0072BD"/>
<ellipse cx="1149.6" cy="983.0" rx="9.9" ry="9.55" fill="#0072BD"/>
<ellipse cx="1059.2" cy="1010.0" rx="9.9" ry="9.55" fill="#0072BD"/>
<ellipse cx="1077.6" cy="1019.3" rx="9.9" ry="9.55" fill="#0072BD"/>
<ellipse cx="1084.2" cy="1025.2" rx="9.9" ry="9.55" fill="#0072BD"/>
<ellipse cx="1105.0" cy="1014.5" rx="9.9" ry="9.55" fill="#0072BD"/>
<ellipse cx="1046.1" cy="1038.3" rx="9.9" ry="9.55" fill="#0072BD"/>
<ellipse cx="1060.0" cy="1053.2" rx="9.9" ry="9.55" fill="#0072BD"/>
<ellipse cx="1080.6" cy="1053.6" rx="9.9" ry="9.55" fill="#0072BD"/>
<ellipse cx="1018.7" cy="1091.9" rx="9.9" ry="9.55" fill="#0072BD"/>
<ellipse cx="1182.5" cy="1014.0" rx="9.9" ry="9.55" fill="#0072BD"/>
<ellipse cx="1187.9" cy="1008.1" rx="9.9" ry="9.55" fill="#0072BD"/>
<ellipse cx="1196.8" cy="1011.7" rx="9.9" ry="9.55" fill="#0072BD"/>
<ellipse cx="1210.5" cy="1026.5" rx="9.9" ry="9.55" fill="#0072BD"/>
<ellipse cx="1198.0" cy="1051.0" rx="9.9" ry="9.55" fill="#0072BD"/>
<ellipse cx="1259.3" cy="1056.9" rx="9.9" ry="9.55" fill="#0072BD"/>
<ellipse cx="1276.9" cy="1033.3" rx="9.9" ry="9.55" fill="#0072BD"/>
<ellipse cx="1321.8" cy="1024.2" rx="9.9" ry="9.55" fill="#0072BD"/>
<ellipse cx="1338.5" cy="1025.7" rx="9.9" ry="9.55" fill="#0072BD"/>
<ellipse cx="1319.4" cy="1070.2" rx="9.9" ry="9.55" fill="#0072BD"/>
<ellipse cx="1186.7" cy="1110.2" rx="9.9" ry="9.55" fill="#0072BD"/>
<ellipse cx="1288.2" cy="1098.3" rx="9.9" ry="9.55" fill="#0072BD"/>
<ellipse cx="1365.2" cy="1137.9" rx="9.9" ry="9.55" fill="#0072BD"/>
<ellipse cx="1224.8" cy="1149.2" rx="9.9" ry="9.55" fill="#0072BD"/>
<ellipse cx="1290.2" cy="1153.3" rx="9.9" ry="9.55" fill="#0072BD"/>
<ellipse cx="1377.6" cy="1017.0" rx="9.9" ry="9.55" fill="#0072BD"/>
<ellipse cx="1399.3" cy="1042.0" rx="9.9" ry="9.55" fill="#0072BD"/>
<ellipse cx="1438.0" cy="1055.1" rx="9.9" ry="9.55" fill="#0072BD"/>
<ellipse cx="1461.8" cy="1056.3" rx="9.9" ry="9.55" fill="#0072BD"/>
<ellipse cx="1471.3" cy="1036.7" rx="9.9" ry="9.55" fill="#0072BD"/>
<ellipse cx="1539.2" cy="1010.5" rx="9.9" ry="9.55" fill="#0072BD"/>
<ellipse cx="1510.2" cy="1028.9" rx="9.9" ry="9.55" fill="#0072BD"/>
<ellipse cx="1528.5" cy="1064.0" rx="9.9" ry="9.55" fill="#0072BD"/>
<ellipse cx="1470.5" cy="1106.9" rx="9.9" ry="9.55" fill="#0072BD"/>
<ellipse cx="1372.5" cy="1126.0" rx="9.9" ry="9.55" fill="#0072BD"/>
<ellipse cx="1672.0" cy="1013.8" rx="9.9" ry="9.55" fill="#0072BD"/>
<ellipse cx="1693.5" cy="1031.1" rx="9.9" ry="9.55" fill="#0072BD"/>
<ellipse cx="1641.7" cy="1046.0" rx="9.9" ry="9.55" fill="#0072BD"/>
<ellipse cx="1771.0" cy="1012.1" rx="9.9" ry="9.55" fill="#0072BD"/>
<ellipse cx="1836.9" cy="1000.0" rx="9.9" ry="9.55" fill="#0072BD"/>
<ellipse cx="1871.0" cy="1001.9" rx="9.9" ry="9.55" fill="#0072BD"/>
<ellipse cx="1051.9" cy="1157.6" rx="9.9" ry="9.55" fill="#0072BD"/>
<ellipse cx="1167.6" cy="1175.0" rx="9.9" ry="9.55" fill="#0072BD"/>
<ellipse cx="1167.6" cy="1194.5" rx="9.9" ry="9.55" fill="#0072BD"/>
<ellipse cx="1228.3" cy="1201.7" rx="9.9" ry="9.55" fill="#0072BD"/>
<ellipse cx="1336.0" cy="1286.9" rx="9.9" ry="9.55" fill="#0072BD"/>
<ellipse cx="1610.5" cy="1158.3" rx="9.9" ry="9.55" fill="#0072BD"/>
<ellipse cx="1414.0" cy="1193.3" rx="9.9" ry="9.55" fill="#0072BD"/>
<ellipse cx="1396.0" cy="1230.2" rx="9.9" ry="9.55" fill="#0072BD"/>
<ellipse cx="1578.3" cy="1219.0" rx="9.9" ry="9.55" fill="#0072BD"/>
<ellipse cx="1381.0" cy="375.5" rx="9.9" ry="9.55" fill="#0072BD"/>
<ellipse cx="1405.0" cy="617.5" rx="9.9" ry="9.55" fill="#0072BD"/>
<path d="M940.8 276.0L955.4 290.6M940.8 290.6L955.4 276.0" stroke="#0072BD" stroke-width="5.4"/>
<path d="M1191.0 228.9L1205.6 243.5M1191.0 243.5L1205.6 228.9" stroke="#0072BD" stroke-width="5.4"/>
<path d="M1318.4 317.7L1333.0 332.3M1318.4 332.3L1333.0 317.7" stroke="#0072BD" stroke-width="5.4"/>
<path d="M555.1 689.4L569.7 704.0M555.1 704.0L569.7 689.4" stroke="#0072BD" stroke-width="5.4"/>
<path d="M918.9 487.0L933.5 501.6M918.9 501.6L933.5 487.0" stroke="#0072BD" stroke-width="5.4"/>
<path d="M1300.6 383.5L1315.2 398.1M1300.6 398.1L1315.2 383.5" stroke="#0072BD" stroke-width="5.4"/>
<path d="M1303.5 425.8L1318.1 440.4M1303.5 440.4L1318.1 425.8" stroke="#0072BD" stroke-width="5.4"/>
<path d="M1450.0 467.5L1464.6 482.1M1450.0 482.1L1464.6 467.5" stroke="#0072BD" stroke-width="5.4"/>
<path d="M1444.0 510.3L1458.6 524.9M1444.0 524.9L1458.6 510.3" stroke="#0072BD" stroke-width="5.4"/>
<path d="M1831.3 600.6L1845.9 615.2M1831.3 615.2L1845.9 600.6" stroke="#0072BD" stroke-width="5.4"/>
<path d="M1141.6 562.6L1156.2 577.2M1141.6 577.2L1156.2 562.6" stroke="#0072BD" stroke-width="5.4"/>
<path d="M1041.6 615.6L1056.2 630.2M1041.6 630.2L1056.2 615.6" stroke="#0072BD" stroke-width="5.4"/>
<path d="M1112.5 621.5L1127.1 636.1M1112.5 636.1L1127.1 621.5" stroke="#0072BD" stroke-width="5.4"/>
<path d="M977.7 723.2L992.3 737.8M977.7 737.8L992.3 723.2" stroke="#0072BD" stroke-width="5.4"/>
<path d="M1092.0 793.4L1106.6 808.0M1092.0 808.0L1106.6 793.4" stroke="#0072BD" stroke-width="5.4"/>
<path d="M1248.2 553.7L1262.8 568.3M1248.2 568.3L1262.8 553.7" stroke="#0072BD" stroke-width="5.4"/>
<path d="M1281.6 678.3L1296.2 692.9M1281.6 692.9L1296.2 678.3" stroke="#0072BD" stroke-width="5.4"/>
<path d="M1450.8 561.2L1465.4 575.8M1450.8 575.8L1465.4 561.2" stroke="#0072BD" stroke-width="5.4"/>
<path d="M1548.4 545.1L1563.0 559.7M1548.4 559.7L1563.0 545.1" stroke="#0072BD" stroke-width="5.4"/>
<path d="M580.1 768.9L594.7 783.5M580.1 783.5L594.7 768.9" stroke="#0072BD" stroke-width="5.4"/>
<path d="M933.2 761.7L947.8 776.3M933.2 776.3L947.8 761.7" stroke="#0072BD" stroke-width="5.4"/>
<path d="M770.1 814.6L784.7 829.2M770.1 829.2L784.7 814.6" stroke="#0072BD" stroke-width="5.4"/>
<path d="M1172.9 842.2L1187.5 856.8M1172.9 856.8L1187.5 842.2" stroke="#0072BD" stroke-width="5.4"/>
<path d="M1405.2 756.0L1419.8 770.6M1405.2 770.6L1419.8 756.0" stroke="#0072BD" stroke-width="5.4"/>
<path d="M1398.7 775.7L1413.3 790.3M1398.7 790.3L1413.3 775.7" stroke="#0072BD" stroke-width="5.4"/>
<path d="M1625.6 700.7L1640.2 715.3M1625.6 715.3L1640.2 700.7" stroke="#0072BD" stroke-width="5.4"/>
<path d="M1609.8 717.9L1624.4 732.5M1609.8 732.5L1624.4 717.9" stroke="#0072BD" stroke-width="5.4"/>
<path d="M1613.7 765.6L1628.3 780.2M1613.7 780.2L1628.3 765.6" stroke="#0072BD" stroke-width="5.4"/>
<path d="M1576.7 804.2L1591.3 818.8M1576.7 818.8L1591.3 804.2" stroke="#0072BD" stroke-width="5.4"/>
<path d="M1738.2 795.3L1752.8 809.9M1738.2 809.9L1752.8 795.3" stroke="#0072BD" stroke-width="5.4"/>
<path d="M1841.5 795.3L1856.1 809.9M1841.5 809.9L1856.1 795.3" stroke="#0072BD" stroke-width="5.4"/>
<path d="M1829.2 826.3L1843.8 840.9M1829.2 840.9L1843.8 826.3" stroke="#0072BD" stroke-width="5.4"/>
<path d="M1116.7 823.7L1131.3 838.3M1116.7 838.3L1131.3 823.7" stroke="#0072BD" stroke-width="5.4"/>
<path d="M1048.9 857.9L1063.5 872.5M1048.9 872.5L1063.5 857.9" stroke="#0072BD" stroke-width="5.4"/>
<path d="M1180.0 852.9L1194.6 867.5M1180.0 867.5L1194.6 852.9" stroke="#0072BD" stroke-width="5.4"/>
<path d="M1323.4 848.2L1338.0 862.8M1323.4 862.8L1338.0 848.2" stroke="#0072BD" stroke-width="5.4"/>
<path d="M1255.7 849.7L1270.3 864.3M1255.7 864.3L1270.3 849.7" stroke="#0072BD" stroke-width="5.4"/>
<path d="M1198.4 925.6L1213.0 940.2M1198.4 940.2L1213.0 925.6" stroke="#0072BD" stroke-width="5.4"/>
<path d="M1229.4 933.9L1244.0 948.5M1229.4 948.5L1244.0 933.9" stroke="#0072BD" stroke-width="5.4"/>
<path d="M1255.0 952.3L1269.6 966.9M1255.0 966.9L1269.6 952.3" stroke="#0072BD" stroke-width="5.4"/>
<path d="M1191.9 959.5L1206.5 974.1M1191.9 974.1L1206.5 959.5" stroke="#0072BD" stroke-width="5.4"/>
<path d="M1321.0 954.1L1335.6 968.7M1321.0 968.7L1335.6 954.1" stroke="#0072BD" stroke-width="5.4"/>
<path d="M1425.3 863.4L1439.9 878.0M1425.3 878.0L1439.9 863.4" stroke="#0072BD" stroke-width="5.4"/>
<path d="M1439.0 867.0L1453.6 881.6M1439.0 881.6L1453.6 867.0" stroke="#0072BD" stroke-width="5.4"/>
<path d="M1701.0 978.9L1715.6 993.5M1701.0 993.5L1715.6 978.9" stroke="#0072BD" stroke-width="5.4"/>
<path d="M1083.4 1001.3L1098.0 1015.9M1083.4 1015.9L1098.0 1001.3" stroke="#0072BD" stroke-width="5.4"/>
<path d="M1422.9 1059.7L1437.5 1074.3M1422.9 1074.3L1437.5 1059.7" stroke="#0072BD" stroke-width="5.4"/>
<path d="M1459.2 1062.7L1473.8 1077.3M1459.2 1077.3L1473.8 1062.7" stroke="#0072BD" stroke-width="5.4"/>
<path d="M1144.1 1133.2L1158.7 1147.8M1144.1 1147.8L1158.7 1133.2" stroke="#0072BD" stroke-width="5.4"/>
<line x1="209.2" y1="56" x2="209.2" y2="1346.6" stroke="#262626" stroke-width="2"/>
<line x1="208.2" y1="1345.6" x2="2384" y2="1345.6" stroke="#262626" stroke-width="2"/>
<line x1="209.2" y1="93.5" x2="231.7" y2="93.5" stroke="#262626" stroke-width="2"/>
<line x1="209.2" y1="235.0" x2="231.7" y2="235.0" stroke="#262626" stroke-width="2"/>
<line x1="209.2" y1="376.5" x2="231.7" y2="376.5" stroke="#262626" stroke-width="2"/>
<line x1="209.2" y1="518.0" x2="231.7" y2="518.0" stroke="#262626" stroke-width="2"/>
<line x1="209.2" y1="659.5" x2="231.7" y2="659.5" stroke="#262626" stroke-width="2"/>
<line x1="209.2" y1="801.0" x2="231.7" y2="801.0" stroke="#262626" stroke-width="2"/>
<line x1="209.2" y1="942.5" x2="231.7" y2="942.5" stroke="#262626" stroke-width="2"/>
<line x1="209.2" y1="1084.0" x2="231.7" y2="1084.0" stroke="#262626" stroke-width="2"/>
<line x1="209.2" y1="1225.5" x2="231.7" y2="1225.5" stroke="#262626" stroke-width="2"/>
<line x1="395.2" y1="1345.6" x2="395.2" y2="1324.1" stroke="#262626" stroke-width="2"/>
<line x1="610.9" y1="1345.6" x2="610.9" y2="1324.1" stroke="#262626" stroke-width="2"/>
<line x1="826.6" y1="1345.6" x2="826.6" y2="1324.1" stroke="#262626" stroke-width="2"/>
<line x1="1042.3" y1="1345.6" x2="1042.3" y2="1324.1" stroke="#262626" stroke-width="2"/>
<line x1="1258.0" y1="1345.6" x2="1258.0" y2="1324.1" stroke="#262626" stroke-width="2"/>
<line x1="1473.7" y1="1345.6" x2="1473.7" y2="1324.1" stroke="#262626" stroke-width="2"/>
<line x1="1689.4" y1="1345.6" x2="1689.4" y2="1324.1" stroke="#262626" stroke-width="2"/>
<line x1="1905.1" y1="1345.6" x2="1905.1" y2="1324.1" stroke="#262626" stroke-width="2"/>
<line x1="2120.8" y1="1345.6" x2="2120.8" y2="1324.1" stroke="#262626" stroke-width="2"/>
<line x1="2336.5" y1="1345.6" x2="2336.5" y2="1324.1" stroke="#262626" stroke-width="2"/>
<text transform="translate(195.70,109.00) scale(1.025,1.0)" font-size="40.5" text-anchor="end" fill="#262626">0.05</text>
<text transform="translate(195.70,250.50) scale(1.025,1.0)" font-size="40.5" text-anchor="end" fill="#262626">0.04</text>
<text transform="translate(195.70,392.00) scale(1.025,1.0)" font-size="40.5" text-anchor="end" fill="#262626">0.03</text>
<text transform="translate(195.70,533.50) scale(1.025,1.0)" font-size="40.5" text-anchor="end" fill="#262626">0.02</text>
<text transform="translate(195.70,675.00) scale(1.025,1.0)" font-size="40.5" text-anchor="end" fill="#262626">0.01</text>
<text transform="translate(195.70,816.50) scale(1.025,1.0)" font-size="40.5" text-anchor="end" fill="#262626">0</text>
<text transform="translate(195.70,958.00) scale(1.025,1.0)" font-size="40.5" text-anchor="end" fill="#262626">-0.01</text>
<text transform="translate(195.70,1099.50) scale(1.025,1.0)" font-size="40.5" text-anchor="end" fill="#262626">-0.02</text>
<text transform="translate(195.70,1241.00) scale(1.025,1.0)" font-size="40.5" text-anchor="end" fill="#262626">-0.03</text>
<text transform="translate(395.20,1400.50) scale(1.025,1.0)" font-size="40.5" text-anchor="middle" fill="#262626">-0.09</text>
<text transform="translate(610.90,1400.50) scale(1.025,1.0)" font-size="40.5" text-anchor="middle" fill="#262626">-0.08</text>
<text transform="translate(826.60,1400.50) scale(1.025,1.0)" font-size="40.5" text-anchor="middle" fill="#262626">-0.07</text>
<text transform="translate(1042.30,1400.50) scale(1.025,1.0)" font-size="40.5" text-anchor="middle" fill="#262626">-0.06</text>
<text transform="translate(1258.00,1400.50) scale(1.025,1.0)" font-size="40.5" text-anchor="middle" fill="#262626">-0.05</text>
<text transform="translate(1473.70,1400.50) scale(1.025,1.0)" font-size="40.5" text-anchor="middle" fill="#262626">-0.04</text>
<text transform="translate(1689.40,1400.50) scale(1.025,1.0)" font-size="40.5" text-anchor="middle" fill="#262626">-0.03</text>
<text transform="translate(1905.10,1400.50) scale(1.025,1.0)" font-size="40.5" text-anchor="middle" fill="#262626">-0.02</text>
<text transform="translate(2120.80,1400.50) scale(1.025,1.0)" font-size="40.5" text-anchor="middle" fill="#262626">-0.01</text>
<text transform="translate(2336.50,1400.50) scale(1.025,1.0)" font-size="40.5" text-anchor="middle" fill="#262626">0</text>
<text transform="translate(1254.50,1461.80)" font-size="45.6" text-anchor="middle" fill="#262626">LungFeatures_Bacteria</text>
<text transform="translate(82.90,700.50) scale(1.067,1.0) rotate(-90)" font-size="44" text-anchor="middle" fill="#262626">LungFeatures_Virus</text>
<text transform="translate(1229.00,1563.00)" font-size="64" text-anchor="middle" font-weight="bold" fill="#000" style="font-family:'Liberation Serif', 'Times New Roman', serif"><tspan font-weight="normal" font-size="68">(</tspan>a<tspan font-weight="normal" font-size="68">)</tspan></text>
<rect x="1661" y="74" width="702" height="241" fill="#fff" stroke="#262626" stroke-width="2"/>
<line x1="1661" y1="126" x2="2363" y2="126" stroke="#262626" stroke-width="2"/>
<text transform="translate(2012.70,114.40) scale(1.04,1.0)" font-size="36" text-anchor="middle" font-weight="bold" fill="#000">Model predictions</text>
<path d="M1700.7 145.7L1715.3 160.3M1700.7 160.3L1715.3 145.7" stroke="#0072BD" stroke-width="5.4"/>
<text transform="translate(1753.00,166.00) scale(1.045,1.0)" font-size="36" fill="#000">PNEUMONIA BACTERIA - Incorrect</text>
<circle cx="1708" cy="198.6" r="9.8" fill="#0072BD"/>
<text transform="translate(1753.00,211.60) scale(1.045,1.0)" font-size="36" fill="#000">PNEUMONIA BACTERIA - Correct</text>
<path d="M1700.7 236.9L1715.3 251.5M1700.7 251.5L1715.3 236.9" stroke="#D95319" stroke-width="5.4"/>
<text transform="translate(1753.00,257.20) scale(1.045,1.0)" font-size="36" fill="#000">PNEUMONIA VIRUS - Incorrect</text>
<circle cx="1708" cy="289.8" r="9.8" fill="#D95319"/>
<text transform="translate(1753.00,302.80) scale(1.045,1.0)" font-size="36" fill="#000">PNEUMONIA VIRUS - Correct</text>
<line x1="351.3" y1="1649.5" x2="351.3" y2="2983" stroke="#dfdfdf" stroke-width="2"/>
<line x1="572.0" y1="1649.5" x2="572.0" y2="2983" stroke="#dfdfdf" stroke-width="2"/>
<line x1="792.8" y1="1649.5" x2="792.8" y2="2983" stroke="#dfdfdf" stroke-width="2"/>
<line x1="1013.5" y1="1649.5" x2="1013.5" y2="2983" stroke="#dfdfdf" stroke-width="2"/>
<line x1="1234.3" y1="1649.5" x2="1234.3" y2="2983" stroke="#dfdfdf" stroke-width="2"/>
<line x1="1455.0" y1="1649.5" x2="1455.0" y2="2983" stroke="#dfdfdf" stroke-width="2"/>
<line x1="1675.8" y1="1649.5" x2="1675.8" y2="2983" stroke="#dfdfdf" stroke-width="2"/>
<line x1="1896.5" y1="1649.5" x2="1896.5" y2="2983" stroke="#dfdfdf" stroke-width="2"/>
<line x1="2117.3" y1="1649.5" x2="2117.3" y2="2983" stroke="#dfdfdf" stroke-width="2"/>
<line x1="2338.0" y1="1649.5" x2="2338.0" y2="2983" stroke="#dfdfdf" stroke-width="2"/>
<line x1="175.2" y1="2921.0" x2="2382.5" y2="2921.0" stroke="#dfdfdf" stroke-width="2"/>
<line x1="175.2" y1="2784.1" x2="2382.5" y2="2784.1" stroke="#dfdfdf" stroke-width="2"/>
<line x1="175.2" y1="2647.2" x2="2382.5" y2="2647.2" stroke="#dfdfdf" stroke-width="2"/>
<line x1="175.2" y1="2510.3" x2="2382.5" y2="2510.3" stroke="#dfdfdf" stroke-width="2"/>
<line x1="175.2" y1="2373.4" x2="2382.5" y2="2373.4" stroke="#dfdfdf" stroke-width="2"/>
<line x1="175.2" y1="2236.5" x2="2382.5" y2="2236.5" stroke="#dfdfdf" stroke-width="2"/>
<line x1="175.2" y1="2099.6" x2="2382.5" y2="2099.6" stroke="#dfdfdf" stroke-width="2"/>
<line x1="175.2" y1="1962.7" x2="2382.5" y2="1962.7" stroke="#dfdfdf" stroke-width="2"/>
<line x1="175.2" y1="1825.8" x2="2382.5" y2="1825.8" stroke="#dfdfdf" stroke-width="2"/>
<line x1="175.2" y1="1688.9" x2="2382.5" y2="1688.9" stroke="#dfdfdf" stroke-width="2"/>
<line x1="175.2" y1="1649.5" x2="175.2" y2="2984" stroke="#262626" stroke-width="2"/>
<line x1="174.2" y1="2983" x2="2382.5" y2="2983" stroke="#262626" stroke-width="2"/>
<polyline points="174.7,1894.2 218.8,1824.5 263.0,2632.0 307.1,2117.4 351.3,2736.7 395.4,2791.3 439.6,2770.4 483.7,2776.4 527.9,2778.5 572.0,2778.5 616.2,2778.5 660.3,2778.5 704.5,2778.5 748.6,2778.5 792.8,2778.5 836.9,2778.5 881.1,2778.5 925.2,2778.5 969.4,2778.5 1013.5,2778.5 1057.7,2778.5 1101.8,2805.0 1146.0,2805.0 1190.1,2805.0 1234.3,2805.0 1278.4,2806.0 1322.6,2811.7 1366.7,2811.7 1410.9,2811.7 1455.0,2811.7 1499.2,2811.7 1543.3,2811.7 1587.5,2811.7 1631.6,2811.7 1675.8,2811.7 1719.9,2811.7 1764.1,2811.7 1808.2,2811.7 1852.4,2811.7 1896.5,2818.8 1940.7,2821.6 1984.8,2823.2 2029.0,2824.0 2073.1,2822.5 2117.3,2823.5 2161.4,2825.5 2205.6,2825.5 2249.7,2825.5 2293.9,2826.0 2338.0,2826.3" fill="none" stroke="#4DA5D8" stroke-width="1.6"/>
<circle cx="174.7" cy="1894.2" r="7.8" fill="#A8DDF7" stroke="#4DA5D8" stroke-width="2"/>
<circle cx="218.8" cy="1824.5" r="7.8" fill="#A8DDF7" stroke="#4DA5D8" stroke-width="2"/>
<circle cx="263.0" cy="2632.0" r="7.8" fill="#A8DDF7" stroke="#4DA5D8" stroke-width="2"/>
<circle cx="307.1" cy="2117.4" r="7.8" fill="#A8DDF7" stroke="#4DA5D8" stroke-width="2"/>
<circle cx="351.3" cy="2736.7" r="7.8" fill="#A8DDF7" stroke="#4DA5D8" stroke-width="2"/>
<circle cx="395.4" cy="2791.3" r="7.8" fill="#A8DDF7" stroke="#4DA5D8" stroke-width="2"/>
<circle cx="439.6" cy="2770.4" r="7.8" fill="#A8DDF7" stroke="#4DA5D8" stroke-width="2"/>
<circle cx="483.7" cy="2776.4" r="7.8" fill="#A8DDF7" stroke="#4DA5D8" stroke-width="2"/>
<circle cx="527.9" cy="2778.5" r="7.8" fill="#A8DDF7" stroke="#4DA5D8" stroke-width="2"/>
<circle cx="572.0" cy="2778.5" r="7.8" fill="#A8DDF7" stroke="#4DA5D8" stroke-width="2"/>
<circle cx="616.2" cy="2778.5" r="7.8" fill="#A8DDF7" stroke="#4DA5D8" stroke-width="2"/>
<circle cx="660.3" cy="2778.5" r="7.8" fill="#A8DDF7" stroke="#4DA5D8" stroke-width="2"/>
<circle cx="704.5" cy="2778.5" r="7.8" fill="#A8DDF7" stroke="#4DA5D8" stroke-width="2"/>
<circle cx="748.6" cy="2778.5" r="7.8" fill="#A8DDF7" stroke="#4DA5D8" stroke-width="2"/>
<circle cx="792.8" cy="2778.5" r="7.8" fill="#A8DDF7" stroke="#4DA5D8" stroke-width="2"/>
<circle cx="836.9" cy="2778.5" r="7.8" fill="#A8DDF7" stroke="#4DA5D8" stroke-width="2"/>
<circle cx="881.1" cy="2778.5" r="7.8" fill="#A8DDF7" stroke="#4DA5D8" stroke-width="2"/>
<circle cx="925.2" cy="2778.5" r="7.8" fill="#A8DDF7" stroke="#4DA5D8" stroke-width="2"/>
<circle cx="969.4" cy="2778.5" r="7.8" fill="#A8DDF7" stroke="#4DA5D8" stroke-width="2"/>
<circle cx="1013.5" cy="2778.5" r="7.8" fill="#A8DDF7" stroke="#4DA5D8" stroke-width="2"/>
<circle cx="1057.7" cy="2778.5" r="7.8" fill="#A8DDF7" stroke="#4DA5D8" stroke-width="2"/>
<circle cx="1101.8" cy="2805.0" r="7.8" fill="#A8DDF7" stroke="#4DA5D8" stroke-width="2"/>
<circle cx="1146.0" cy="2805.0" r="7.8" fill="#A8DDF7" stroke="#4DA5D8" stroke-width="2"/>
<circle cx="1190.1" cy="2805.0" r="7.8" fill="#A8DDF7" stroke="#4DA5D8" stroke-width="2"/>
<circle cx="1234.3" cy="2805.0" r="7.8" fill="#A8DDF7" stroke="#4DA5D8" stroke-width="2"/>
<circle cx="1278.4" cy="2806.0" r="7.8" fill="#A8DDF7" stroke="#4DA5D8" stroke-width="2"/>
<circle cx="1322.6" cy="2811.7" r="7.8" fill="#A8DDF7" stroke="#4DA5D8" stroke-width="2"/>
<circle cx="1366.7" cy="2811.7" r="7.8" fill="#A8DDF7" stroke="#4DA5D8" stroke-width="2"/>
<circle cx="1410.9" cy="2811.7" r="7.8" fill="#A8DDF7" stroke="#4DA5D8" stroke-width="2"/>
<circle cx="1455.0" cy="2811.7" r="7.8" fill="#A8DDF7" stroke="#4DA5D8" stroke-width="2"/>
<circle cx="1499.2" cy="2811.7" r="7.8" fill="#A8DDF7" stroke="#4DA5D8" stroke-width="2"/>
<circle cx="1543.3" cy="2811.7" r="7.8" fill="#A8DDF7" stroke="#4DA5D8" stroke-width="2"/>
<circle cx="1587.5" cy="2811.7" r="7.8" fill="#A8DDF7" stroke="#4DA5D8" stroke-width="2"/>
<circle cx="1631.6" cy="2811.7" r="7.8" fill="#A8DDF7" stroke="#4DA5D8" stroke-width="2"/>
<circle cx="1675.8" cy="2811.7" r="7.8" fill="#A8DDF7" stroke="#4DA5D8" stroke-width="2"/>
<circle cx="1719.9" cy="2811.7" r="7.8" fill="#A8DDF7" stroke="#4DA5D8" stroke-width="2"/>
<circle cx="1764.1" cy="2811.7" r="7.8" fill="#A8DDF7" stroke="#4DA5D8" stroke-width="2"/>
<circle cx="1808.2" cy="2811.7" r="7.8" fill="#A8DDF7" stroke="#4DA5D8" stroke-width="2"/>
<circle cx="1852.4" cy="2811.7" r="7.8" fill="#A8DDF7" stroke="#4DA5D8" stroke-width="2"/>
<circle cx="1896.5" cy="2818.8" r="7.8" fill="#A8DDF7" stroke="#4DA5D8" stroke-width="2"/>
<circle cx="1940.7" cy="2821.6" r="7.8" fill="#A8DDF7" stroke="#4DA5D8" stroke-width="2"/>
<circle cx="1984.8" cy="2823.2" r="7.8" fill="#A8DDF7" stroke="#4DA5D8" stroke-width="2"/>
<circle cx="2029.0" cy="2824.0" r="7.8" fill="#A8DDF7" stroke="#4DA5D8" stroke-width="2"/>
<circle cx="2073.1" cy="2822.5" r="7.8" fill="#A8DDF7" stroke="#4DA5D8" stroke-width="2"/>
<circle cx="2117.3" cy="2823.5" r="7.8" fill="#A8DDF7" stroke="#4DA5D8" stroke-width="2"/>
<circle cx="2161.4" cy="2825.5" r="7.8" fill="#A8DDF7" stroke="#4DA5D8" stroke-width="2"/>
<circle cx="2205.6" cy="2825.5" r="7.8" fill="#A8DDF7" stroke="#4DA5D8" stroke-width="2"/>
<circle cx="2249.7" cy="2825.5" r="7.8" fill="#A8DDF7" stroke="#4DA5D8" stroke-width="2"/>
<circle cx="2293.9" cy="2826.0" r="7.8" fill="#A8DDF7" stroke="#4DA5D8" stroke-width="2"/>
<circle cx="2338.0" cy="2826.3" r="7.8" fill="#A8DDF7" stroke="#4DA5D8" stroke-width="2"/>
<polyline points="174.7,1894.2 218.8,1894.2 263.0,2736.7 307.1,2736.7 351.3,2736.7 395.4,2791.3 439.6,2791.3 483.7,2791.3 527.9,2791.3 572.0,2791.3 616.2,2791.3 660.3,2791.3 704.5,2791.3 748.6,2791.3 792.8,2791.3 836.9,2791.3 881.1,2791.3 925.2,2791.3 969.4,2791.3 1013.5,2791.3 1057.7,2791.3 1101.8,2805.0 1146.0,2805.0 1190.1,2805.0 1234.3,2805.0 1278.4,2811.7 1322.6,2811.7 1366.7,2811.7 1410.9,2811.7 1455.0,2811.7 1499.2,2811.7 1543.3,2811.7 1587.5,2811.7 1631.6,2811.7 1675.8,2811.7 1719.9,2811.7 1764.1,2811.7 1808.2,2811.7 1852.4,2811.7 1896.5,2818.8 1940.7,2825.2 1984.8,2825.2 2029.0,2825.2 2073.1,2825.2 2117.3,2825.2 2161.4,2832.7 2205.6,2832.7 2249.7,2832.7 2293.9,2832.7 2338.0,2832.7" fill="none" stroke="#0072BD" stroke-width="2"/>
<circle cx="174.7" cy="1894.2" r="8.9" fill="#0072BD"/>
<circle cx="218.8" cy="1894.2" r="8.9" fill="#0072BD"/>
<circle cx="263.0" cy="2736.7" r="8.9" fill="#0072BD"/>
<circle cx="307.1" cy="2736.7" r="8.9" fill="#0072BD"/>
<circle cx="351.3" cy="2736.7" r="8.9" fill="#0072BD"/>
<circle cx="395.4" cy="2791.3" r="8.9" fill="#0072BD"/>
<circle cx="439.6" cy="2791.3" r="8.9" fill="#0072BD"/>
<circle cx="483.7" cy="2791.3" r="8.9" fill="#0072BD"/>
<circle cx="527.9" cy="2791.3" r="8.9" fill="#0072BD"/>
<circle cx="572.0" cy="2791.3" r="8.9" fill="#0072BD"/>
<circle cx="616.2" cy="2791.3" r="8.9" fill="#0072BD"/>
<circle cx="660.3" cy="2791.3" r="8.9" fill="#0072BD"/>
<circle cx="704.5" cy="2791.3" r="8.9" fill="#0072BD"/>
<circle cx="748.6" cy="2791.3" r="8.9" fill="#0072BD"/>
<circle cx="792.8" cy="2791.3" r="8.9" fill="#0072BD"/>
<circle cx="836.9" cy="2791.3" r="8.9" fill="#0072BD"/>
<circle cx="881.1" cy="2791.3" r="8.9" fill="#0072BD"/>
<circle cx="925.2" cy="2791.3" r="8.9" fill="#0072BD"/>
<circle cx="969.4" cy="2791.3" r="8.9" fill="#0072BD"/>
<circle cx="1013.5" cy="2791.3" r="8.9" fill="#0072BD"/>
<circle cx="1057.7" cy="2791.3" r="8.9" fill="#0072BD"/>
<circle cx="1101.8" cy="2805.0" r="8.9" fill="#0072BD"/>
<circle cx="1146.0" cy="2805.0" r="8.9" fill="#0072BD"/>
<circle cx="1190.1" cy="2805.0" r="8.9" fill="#0072BD"/>
<circle cx="1234.3" cy="2805.0" r="8.9" fill="#0072BD"/>
<circle cx="1278.4" cy="2811.7" r="8.9" fill="#0072BD"/>
<circle cx="1322.6" cy="2811.7" r="8.9" fill="#0072BD"/>
<circle cx="1366.7" cy="2811.7" r="8.9" fill="#0072BD"/>
<circle cx="1410.9" cy="2811.7" r="8.9" fill="#0072BD"/>
<circle cx="1455.0" cy="2811.7" r="8.9" fill="#0072BD"/>
<circle cx="1499.2" cy="2811.7" r="8.9" fill="#0072BD"/>
<circle cx="1543.3" cy="2811.7" r="8.9" fill="#0072BD"/>
<circle cx="1587.5" cy="2811.7" r="8.9" fill="#0072BD"/>
<circle cx="1631.6" cy="2811.7" r="8.9" fill="#0072BD"/>
<circle cx="1675.8" cy="2811.7" r="8.9" fill="#0072BD"/>
<circle cx="1719.9" cy="2811.7" r="8.9" fill="#0072BD"/>
<circle cx="1764.1" cy="2811.7" r="8.9" fill="#0072BD"/>
<circle cx="1808.2" cy="2811.7" r="8.9" fill="#0072BD"/>
<circle cx="1852.4" cy="2811.7" r="8.9" fill="#0072BD"/>
<circle cx="1896.5" cy="2818.8" r="8.9" fill="#0072BD"/>
<circle cx="1940.7" cy="2825.2" r="8.9" fill="#0072BD"/>
<circle cx="1984.8" cy="2825.2" r="8.9" fill="#0072BD"/>
<circle cx="2029.0" cy="2825.2" r="8.9" fill="#0072BD"/>
<circle cx="2073.1" cy="2825.2" r="8.9" fill="#0072BD"/>
<circle cx="2117.3" cy="2825.2" r="8.9" fill="#0072BD"/>
<circle cx="2161.4" cy="2832.7" r="8.9" fill="#0072BD"/>
<circle cx="2205.6" cy="2832.7" r="8.9" fill="#0072BD"/>
<circle cx="2249.7" cy="2832.7" r="8.9" fill="#0072BD"/>
<circle cx="2293.9" cy="2832.7" r="8.9" fill="#0072BD"/>
<circle cx="2338.0" cy="2832.7" r="8.9" fill="#0072BD"/>
<circle cx="2161.4" cy="2832.7" r="7.6" fill="#EDB120" stroke="#000" stroke-width="2"/>
<rect x="2239.2" y="2822.2" width="21" height="21" fill="#D95319" stroke="#000" stroke-width="2"/>
<line x1="175.2" y1="2921.0" x2="197.2" y2="2921.0" stroke="#262626" stroke-width="2"/>
<text transform="translate(161.40,2935.50)" font-size="37.2" text-anchor="end" fill="#262626">0.08</text>
<line x1="175.2" y1="2784.1" x2="197.2" y2="2784.1" stroke="#262626" stroke-width="2"/>
<text transform="translate(161.40,2798.60)" font-size="37.2" text-anchor="end" fill="#262626">0.1</text>
<line x1="175.2" y1="2647.2" x2="197.2" y2="2647.2" stroke="#262626" stroke-width="2"/>
<text transform="translate(161.40,2661.70)" font-size="37.2" text-anchor="end" fill="#262626">0.12</text>
<line x1="175.2" y1="2510.3" x2="197.2" y2="2510.3" stroke="#262626" stroke-width="2"/>
<text transform="translate(161.40,2524.80)" font-size="37.2" text-anchor="end" fill="#262626">0.14</text>
<line x1="175.2" y1="2373.4" x2="197.2" y2="2373.4" stroke="#262626" stroke-width="2"/>
<text transform="translate(161.40,2387.90)" font-size="37.2" text-anchor="end" fill="#262626">0.16</text>
<line x1="175.2" y1="2236.5" x2="197.2" y2="2236.5" stroke="#262626" stroke-width="2"/>
<text transform="translate(161.40,2251.00)" font-size="37.2" text-anchor="end" fill="#262626">0.18</text>
<line x1="175.2" y1="2099.6" x2="197.2" y2="2099.6" stroke="#262626" stroke-width="2"/>
<text transform="translate(161.40,2114.10)" font-size="37.2" text-anchor="end" fill="#262626">0.2</text>
<line x1="175.2" y1="1962.7" x2="197.2" y2="1962.7" stroke="#262626" stroke-width="2"/>
<text transform="translate(161.40,1977.20)" font-size="37.2" text-anchor="end" fill="#262626">0.22</text>
<line x1="175.2" y1="1825.8" x2="197.2" y2="1825.8" stroke="#262626" stroke-width="2"/>
<text transform="translate(161.40,1840.30)" font-size="37.2" text-anchor="end" fill="#262626">0.24</text>
<line x1="175.2" y1="1688.9" x2="197.2" y2="1688.9" stroke="#262626" stroke-width="2"/>
<text transform="translate(161.40,1703.40)" font-size="37.2" text-anchor="end" fill="#262626">0.26</text>
<line x1="351.3" y1="2983" x2="351.3" y2="2961" stroke="#262626" stroke-width="2"/>
<text transform="translate(351.30,3034.00) scale(1.02,1.0)" font-size="37.2" text-anchor="middle" fill="#262626">5</text>
<line x1="572.0" y1="2983" x2="572.0" y2="2961" stroke="#262626" stroke-width="2"/>
<text transform="translate(572.04,3034.00) scale(1.02,1.0)" font-size="37.2" text-anchor="middle" fill="#262626">10</text>
<line x1="792.8" y1="2983" x2="792.8" y2="2961" stroke="#262626" stroke-width="2"/>
<text transform="translate(792.79,3034.00) scale(1.02,1.0)" font-size="37.2" text-anchor="middle" fill="#262626">15</text>
<line x1="1013.5" y1="2983" x2="1013.5" y2="2961" stroke="#262626" stroke-width="2"/>
<text transform="translate(1013.53,3034.00) scale(1.02,1.0)" font-size="37.2" text-anchor="middle" fill="#262626">20</text>
<line x1="1234.3" y1="2983" x2="1234.3" y2="2961" stroke="#262626" stroke-width="2"/>
<text transform="translate(1234.28,3034.00) scale(1.02,1.0)" font-size="37.2" text-anchor="middle" fill="#262626">25</text>
<line x1="1455.0" y1="2983" x2="1455.0" y2="2961" stroke="#262626" stroke-width="2"/>
<text transform="translate(1455.02,3034.00) scale(1.02,1.0)" font-size="37.2" text-anchor="middle" fill="#262626">30</text>
<line x1="1675.8" y1="2983" x2="1675.8" y2="2961" stroke="#262626" stroke-width="2"/>
<text transform="translate(1675.77,3034.00) scale(1.02,1.0)" font-size="37.2" text-anchor="middle" fill="#262626">35</text>
<line x1="1896.5" y1="2983" x2="1896.5" y2="2961" stroke="#262626" stroke-width="2"/>
<text transform="translate(1896.51,3034.00) scale(1.02,1.0)" font-size="37.2" text-anchor="middle" fill="#262626">40</text>
<line x1="2117.3" y1="2983" x2="2117.3" y2="2961" stroke="#262626" stroke-width="2"/>
<text transform="translate(2117.26,3034.00) scale(1.02,1.0)" font-size="37.2" text-anchor="middle" fill="#262626">45</text>
<line x1="2338.0" y1="2983" x2="2338.0" y2="2961" stroke="#262626" stroke-width="2"/>
<text transform="translate(2338.00,3034.00) scale(1.02,1.0)" font-size="37.2" text-anchor="middle" fill="#262626">50</text>
<text transform="translate(1279.00,3087.00)" font-size="41" text-anchor="middle" fill="#262626">Iteration</text>
<text transform="translate(72.90,2303.90) scale(1.03,1.0) rotate(-90)" font-size="40.3" text-anchor="middle" fill="#262626">Minimum classification error</text>
<text transform="translate(1229.00,3171.00)" font-size="64" text-anchor="middle" font-weight="bold" fill="#000" style="font-family:'Liberation Serif', 'Times New Roman', serif"><tspan font-weight="normal" font-size="68">(</tspan>b<tspan font-weight="normal" font-size="68">)</tspan></text>
<rect x="1691.6" y="1647.5" width="669.9000000000001" height="178.79999999999995" fill="#fff" stroke="none"/>
<path d="M1691.6 1649.5V1826.3H2361.5V1649.5" fill="none" stroke="#262626" stroke-width="2"/>
<line x1="1699" y1="1673.0" x2="1779" y2="1673.0" stroke="#4DA5D8" stroke-width="1.6"/>
<circle cx="1739" cy="1673.0" r="7.8" fill="#A8DDF7" stroke="#4DA5D8" stroke-width="2"/>
<text transform="translate(1786.00,1686.30) scale(1.006,1.0)" font-size="33" fill="#000">Estimated minimum classification error</text>
<line x1="1699" y1="1716.1" x2="1779" y2="1716.1" stroke="#0072BD" stroke-width="2"/>
<circle cx="1739" cy="1716.1" r="8.9" fill="#0072BD"/>
<text transform="translate(1786.00,1729.40) scale(1.006,1.0)" font-size="33" fill="#000">Observed minimum classification error</text>
<rect x="1728.5" y="1748.7" width="21" height="21" fill="#D95319" stroke="#000" stroke-width="2"/>
<text transform="translate(1786.00,1772.50) scale(1.006,1.0)" font-size="33" fill="#000">Bestpoint hyperparameters</text>
<circle cx="1739" cy="1802.3" r="7.6" fill="#EDB120" stroke="#000" stroke-width="2"/>
<text transform="translate(1786.00,1815.60) scale(1.006,1.0)" font-size="33" fill="#000">Minimum error hyperparameters</text>
<text transform="translate(2036.50,1860.60) scale(1.08,1.0)" font-size="22.2" fill="#000"><tspan font-weight="bold">Optimization Results</tspan></text>
<text transform="translate(2036.50,1890.70) scale(1.08,1.0)" font-size="22.2" fill="#000">Box constraint level: <tspan font-weight="bold">154.4076</tspan></text>
<text transform="translate(2036.50,1920.80) scale(1.08,1.0)" font-size="22.2" fill="#000">Kernel scale: <tspan font-weight="bold">0.96509</tspan></text>
<text transform="translate(2036.50,1950.90) scale(1.08,1.0)" font-size="22.2" fill="#000">Kernel function: <tspan font-weight="bold">Gaussian</tspan></text>
<text transform="translate(2036.50,1981.00) scale(1.08,1.0)" font-size="22.2" fill="#000">Standardize data: <tspan font-weight="bold">false</tspan></text>
</svg>
</body></html>
